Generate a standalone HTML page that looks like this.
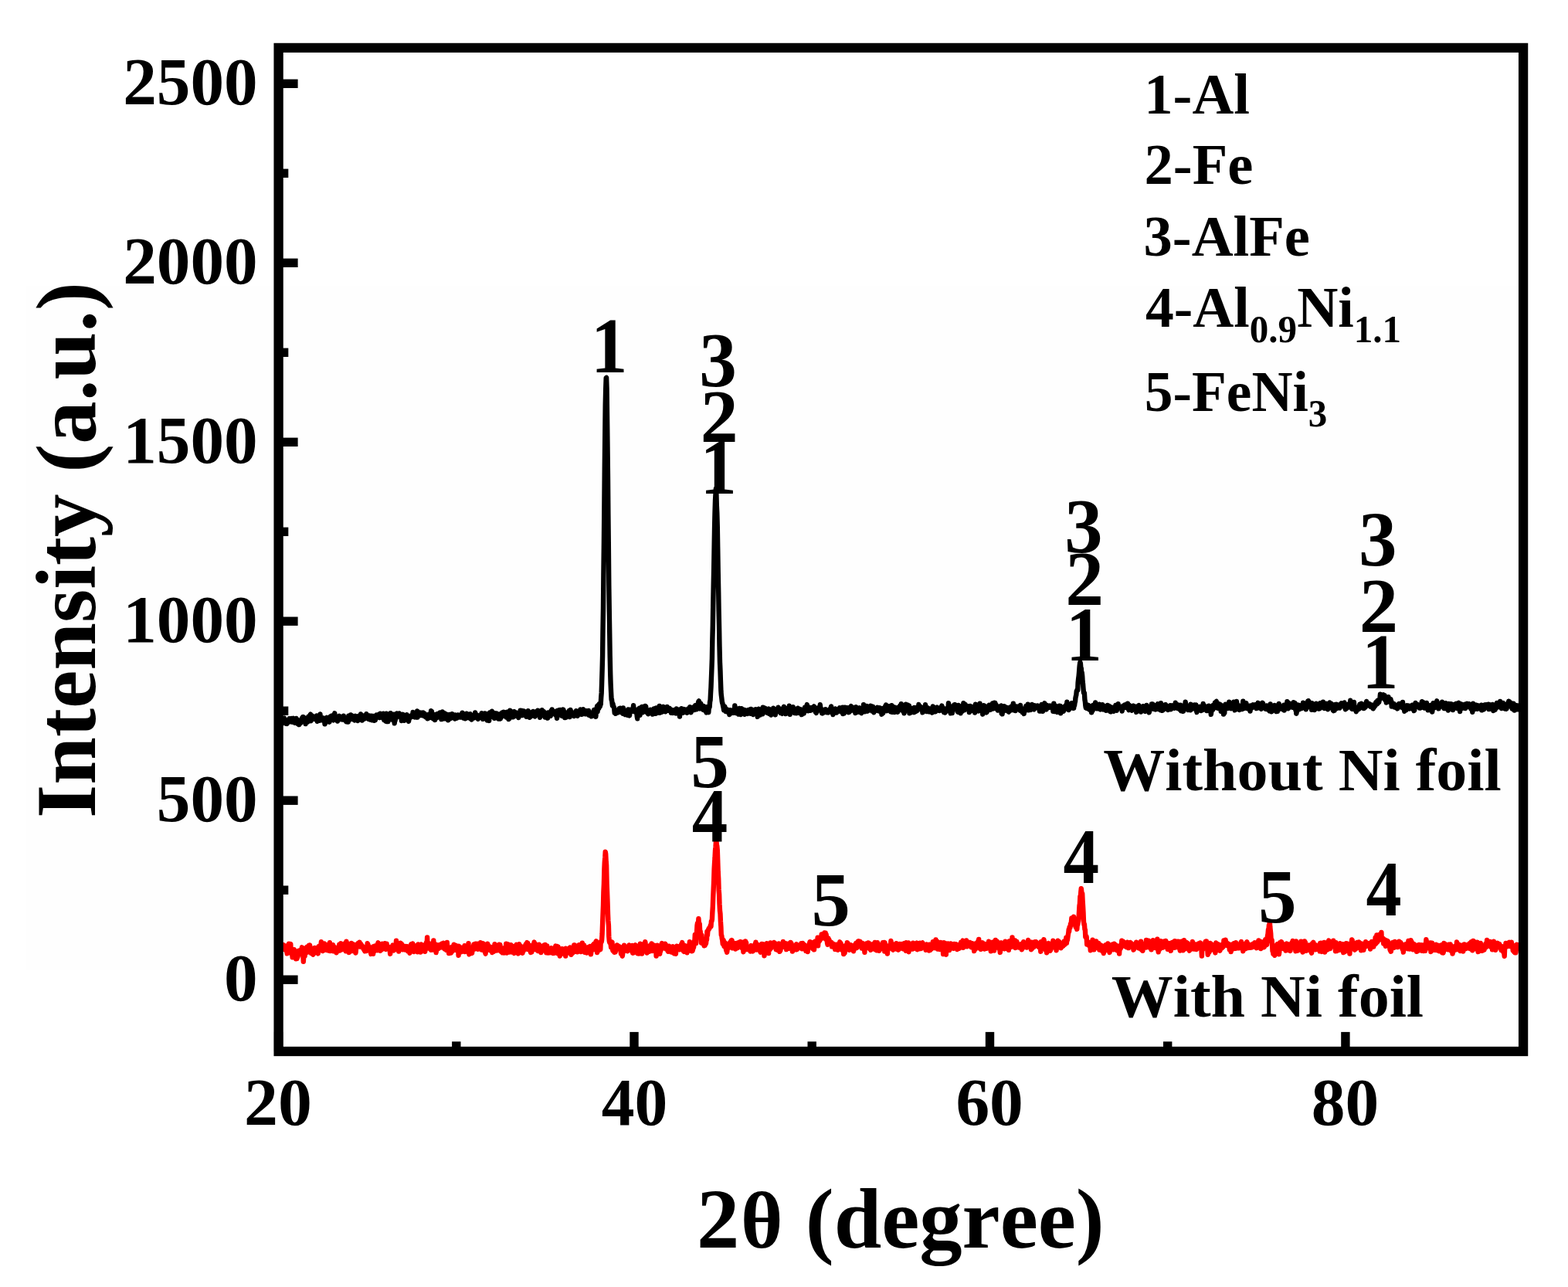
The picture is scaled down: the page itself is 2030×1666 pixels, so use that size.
<!DOCTYPE html>
<html lang="en"><head><meta charset="utf-8"><title>XRD patterns</title>
<style>
html,body{margin:0;padding:0;background:#fff;}
body{width:2030px;height:1666px;overflow:hidden;}
svg{display:block;}
text{font-family:"Liberation Serif", "DejaVu Serif", serif;font-weight:bold;fill:#000;font-kerning:none;font-size:200px;}
.sb{font-size:133.4px;}
</style></head><body>
<svg width="2030" height="1666" viewBox="0 0 2030 1666">
<rect x="0" y="0" width="2030" height="1666" fill="#fff"/>
<rect x="34" y="370" width="1930" height="885.6" fill="#fefefe"/>
<g fill="none" stroke-linejoin="round" stroke-linecap="round" stroke-width="6.4">
<path stroke="#000" d="M360.6,931.8 L361.1,928.9 L361.5,928.9 L362.0,931.9 L362.4,931.0 L362.9,931.5 L363.4,929.9 L363.8,932.2 L364.3,931.4 L364.7,937.1 L365.2,929.7 L365.7,932.5 L366.1,929.9 L366.6,930.9 L367.0,931.1 L367.5,929.7 L368.0,929.6 L368.4,932.6 L368.9,933.3 L369.3,932.1 L369.8,935.5 L370.3,936.8 L370.7,932.7 L371.2,934.7 L371.7,936.9 L372.1,934.1 L372.6,932.7 L373.0,933.7 L373.5,934.4 L374.0,931.6 L374.4,930.4 L374.9,933.2 L375.3,934.2 L375.8,931.5 L376.3,930.4 L376.7,932.3 L377.2,930.8 L377.6,930.2 L378.1,933.2 L378.6,934.6 L379.0,932.1 L379.5,932.0 L379.9,929.8 L380.4,934.4 L380.9,932.9 L381.3,933.5 L381.8,935.8 L382.2,932.4 L382.7,931.8 L383.2,934.5 L383.6,930.0 L384.1,931.1 L384.5,931.6 L385.0,932.5 L385.5,932.0 L385.9,937.3 L386.4,933.5 L386.8,933.4 L387.3,938.1 L387.8,933.5 L388.2,934.9 L388.7,933.1 L389.1,936.1 L389.6,935.2 L390.1,933.6 L390.5,934.6 L391.0,929.8 L391.4,930.0 L391.9,928.3 L392.4,930.7 L392.8,928.1 L393.3,930.0 L393.8,932.3 L394.2,931.0 L394.7,930.2 L395.1,929.7 L395.6,937.1 L396.1,932.3 L396.5,933.2 L397.0,934.1 L397.4,935.3 L397.9,929.7 L398.4,934.2 L398.8,929.7 L399.3,927.7 L399.7,933.3 L400.2,930.1 L400.7,931.7 L401.1,928.1 L401.6,925.3 L402.0,924.7 L402.5,933.3 L403.0,931.3 L403.4,928.7 L403.9,926.4 L404.3,928.1 L404.8,929.8 L405.3,927.3 L405.7,928.0 L406.2,928.9 L406.6,930.7 L407.1,929.0 L407.6,929.4 L408.0,929.9 L408.5,929.5 L408.9,931.2 L409.4,929.5 L409.9,926.4 L410.3,930.2 L410.8,933.8 L411.2,928.8 L411.7,930.6 L412.2,926.9 L412.6,930.5 L413.1,931.0 L413.5,932.8 L414.0,927.0 L414.5,924.5 L414.9,931.8 L415.4,931.6 L415.9,929.2 L416.3,932.3 L416.8,931.4 L417.2,932.0 L417.7,931.2 L418.2,929.4 L418.6,931.5 L419.1,929.5 L419.5,932.5 L420.0,931.5 L420.5,937.3 L420.9,936.6 L421.4,932.3 L421.8,935.0 L422.3,931.8 L422.8,931.0 L423.2,928.8 L423.7,929.8 L424.1,929.6 L424.6,932.2 L425.1,933.8 L425.5,934.2 L426.0,933.8 L426.4,934.7 L426.9,932.4 L427.4,929.9 L427.8,927.4 L428.3,927.3 L428.7,930.1 L429.2,926.8 L429.7,927.3 L430.1,926.7 L430.6,928.8 L431.0,932.0 L431.5,932.3 L432.0,926.1 L432.4,928.0 L432.9,924.8 L433.3,923.3 L433.8,929.0 L434.3,926.8 L434.7,927.6 L435.2,928.4 L435.6,929.3 L436.1,930.6 L436.6,930.6 L437.0,933.5 L437.5,929.8 L438.0,930.1 L438.4,927.7 L438.9,928.7 L439.3,926.8 L439.8,927.4 L440.3,929.5 L440.7,930.1 L441.2,930.5 L441.6,931.2 L442.1,930.0 L442.6,930.2 L443.0,928.1 L443.5,928.9 L443.9,927.7 L444.4,931.6 L444.9,926.8 L445.3,930.3 L445.8,930.6 L446.2,930.1 L446.7,931.7 L447.2,930.6 L447.6,932.9 L448.1,934.1 L448.5,933.8 L449.0,929.5 L449.5,932.1 L449.9,934.5 L450.4,931.7 L450.8,934.5 L451.3,926.7 L451.8,932.8 L452.2,928.1 L452.7,927.6 L453.1,931.4 L453.6,927.2 L454.1,925.4 L454.5,926.5 L455.0,927.2 L455.4,926.2 L455.9,928.3 L456.4,928.4 L456.8,929.8 L457.3,928.3 L457.8,931.6 L458.2,928.0 L458.7,931.0 L459.1,932.4 L459.6,929.5 L460.1,926.8 L460.5,928.2 L461.0,931.0 L461.4,928.3 L461.9,930.6 L462.4,929.7 L462.8,928.7 L463.3,933.0 L463.7,927.2 L464.2,929.3 L464.7,928.4 L465.1,930.3 L465.6,930.7 L466.0,929.7 L466.5,926.2 L467.0,924.4 L467.4,928.0 L467.9,925.7 L468.3,928.8 L468.8,932.5 L469.3,928.5 L469.7,928.2 L470.2,929.9 L470.6,927.8 L471.1,926.6 L471.6,929.2 L472.0,930.4 L472.5,927.9 L472.9,927.9 L473.4,928.3 L473.9,925.7 L474.3,924.2 L474.8,928.8 L475.2,926.7 L475.7,926.4 L476.2,927.3 L476.6,927.2 L477.1,930.9 L477.5,929.0 L478.0,926.5 L478.5,928.8 L478.9,931.4 L479.4,928.5 L479.9,927.2 L480.3,929.3 L480.8,931.3 L481.2,926.7 L481.7,932.2 L482.2,928.2 L482.6,929.1 L483.1,931.6 L483.5,927.0 L484.0,929.4 L484.5,932.9 L484.9,929.0 L485.4,930.3 L485.8,932.3 L486.3,928.7 L486.8,926.2 L487.2,925.5 L487.7,927.0 L488.1,927.7 L488.6,927.1 L489.1,928.5 L489.5,925.2 L490.0,926.9 L490.4,926.4 L490.9,925.8 L491.4,929.1 L491.8,928.4 L492.3,923.7 L492.7,925.9 L493.2,927.1 L493.7,925.7 L494.1,927.6 L494.6,926.3 L495.0,928.2 L495.5,926.0 L496.0,929.7 L496.4,923.8 L496.9,928.3 L497.3,931.8 L497.8,930.2 L498.3,931.4 L498.7,930.6 L499.2,933.4 L499.6,930.3 L500.1,923.7 L500.6,934.1 L501.0,930.9 L501.5,932.2 L502.0,930.6 L502.4,934.1 L502.9,932.1 L503.3,928.5 L503.8,929.6 L504.3,926.4 L504.7,931.3 L505.2,929.3 L505.6,923.1 L506.1,930.4 L506.6,930.8 L507.0,929.5 L507.5,930.4 L507.9,929.1 L508.4,930.7 L508.9,932.3 L509.3,930.0 L509.8,924.7 L510.2,927.5 L510.7,936.3 L511.2,931.2 L511.6,932.9 L512.1,929.4 L512.5,930.1 L513.0,924.2 L513.5,924.7 L513.9,923.6 L514.4,924.7 L514.8,925.8 L515.3,925.8 L515.8,924.4 L516.2,926.1 L516.7,927.5 L517.1,923.5 L517.6,925.3 L518.1,925.8 L518.5,927.4 L519.0,927.3 L519.4,928.0 L519.9,933.0 L520.4,925.4 L520.8,926.4 L521.3,927.8 L521.7,924.8 L522.2,925.7 L522.7,926.1 L523.1,932.9 L523.6,929.6 L524.1,929.1 L524.5,927.5 L525.0,926.8 L525.4,926.5 L525.9,930.4 L526.4,931.4 L526.8,925.2 L527.3,927.0 L527.7,926.4 L528.2,929.9 L528.7,930.0 L529.1,933.7 L529.6,929.3 L530.0,930.5 L530.5,928.2 L531.0,927.7 L531.4,928.8 L531.9,927.8 L532.3,928.2 L532.8,926.0 L533.3,926.0 L533.7,927.6 L534.2,927.1 L534.6,921.9 L535.1,925.7 L535.6,923.6 L536.0,925.0 L536.5,927.4 L536.9,928.4 L537.4,927.2 L537.9,927.0 L538.3,925.7 L538.8,928.6 L539.2,926.1 L539.7,924.3 L540.2,920.4 L540.6,928.5 L541.1,922.7 L541.5,924.9 L542.0,923.1 L542.5,925.4 L542.9,924.2 L543.4,922.4 L543.9,925.3 L544.3,925.0 L544.8,924.5 L545.2,926.1 L545.7,922.6 L546.2,923.7 L546.6,924.6 L547.1,923.1 L547.5,923.9 L548.0,922.5 L548.5,925.1 L548.9,926.9 L549.4,923.4 L549.8,924.9 L550.3,924.5 L550.8,925.9 L551.2,927.6 L551.7,928.7 L552.1,928.9 L552.6,926.4 L553.1,927.7 L553.5,930.3 L554.0,926.4 L554.4,928.5 L554.9,925.0 L555.4,928.1 L555.8,928.6 L556.3,925.9 L556.7,926.1 L557.2,928.9 L557.7,923.3 L558.1,920.2 L558.6,927.8 L559.0,921.3 L559.5,927.1 L560.0,927.4 L560.4,927.5 L560.9,930.6 L561.3,925.4 L561.8,927.6 L562.3,930.6 L562.7,929.8 L563.2,932.0 L563.6,928.8 L564.1,925.0 L564.6,929.5 L565.0,926.3 L565.5,925.4 L566.0,924.2 L566.4,924.1 L566.9,928.0 L567.3,928.3 L567.8,925.4 L568.3,926.7 L568.7,926.5 L569.2,923.7 L569.6,922.6 L570.1,925.7 L570.6,927.0 L571.0,925.7 L571.5,931.1 L571.9,927.2 L572.4,929.2 L572.9,921.4 L573.3,924.1 L573.8,924.7 L574.2,925.2 L574.7,930.4 L575.2,924.4 L575.6,923.3 L576.1,928.8 L576.5,925.9 L577.0,925.7 L577.5,930.4 L577.9,925.3 L578.4,924.8 L578.8,927.7 L579.3,928.9 L579.8,927.4 L580.2,932.3 L580.7,928.7 L581.1,926.2 L581.6,930.4 L582.1,925.0 L582.5,927.3 L583.0,930.3 L583.4,925.9 L583.9,927.7 L584.4,925.2 L584.8,928.5 L585.3,924.1 L585.7,928.2 L586.2,926.5 L586.7,929.2 L587.1,929.2 L587.6,926.3 L588.1,928.2 L588.5,929.1 L589.0,930.5 L589.4,925.4 L589.9,926.6 L590.4,929.0 L590.8,927.6 L591.3,929.7 L591.7,928.9 L592.2,928.0 L592.7,925.4 L593.1,925.8 L593.6,928.5 L594.0,925.9 L594.5,926.3 L595.0,927.9 L595.4,926.1 L595.9,928.5 L596.3,927.6 L596.8,925.7 L597.3,926.2 L597.7,924.0 L598.2,928.2 L598.6,922.8 L599.1,927.7 L599.6,926.7 L600.0,929.6 L600.5,925.7 L600.9,924.4 L601.4,924.9 L601.9,925.3 L602.3,930.3 L602.8,928.6 L603.2,927.5 L603.7,928.1 L604.2,923.6 L604.6,925.6 L605.1,926.5 L605.5,925.9 L606.0,929.1 L606.5,928.9 L606.9,928.3 L607.4,924.7 L607.9,924.7 L608.3,924.4 L608.8,924.2 L609.2,930.2 L609.7,929.2 L610.2,928.1 L610.6,931.5 L611.1,930.0 L611.5,927.0 L612.0,927.2 L612.5,927.4 L612.9,929.4 L613.4,929.4 L613.8,925.8 L614.3,927.7 L614.8,925.3 L615.2,922.5 L615.7,925.6 L616.1,926.3 L616.6,925.7 L617.1,925.4 L617.5,926.5 L618.0,927.5 L618.4,926.6 L618.9,930.7 L619.4,928.8 L619.8,926.5 L620.3,928.6 L620.7,929.3 L621.2,928.8 L621.7,928.0 L622.1,926.4 L622.6,928.3 L623.0,926.0 L623.5,923.2 L624.0,927.3 L624.4,924.7 L624.9,927.3 L625.3,930.8 L625.8,929.1 L626.3,930.4 L626.7,926.2 L627.2,929.4 L627.6,923.5 L628.1,924.5 L628.6,929.9 L629.0,924.8 L629.5,924.2 L630.0,929.9 L630.4,926.7 L630.9,932.6 L631.3,927.8 L631.8,931.1 L632.3,926.2 L632.7,931.0 L633.2,933.0 L633.6,926.6 L634.1,922.4 L634.6,928.1 L635.0,924.6 L635.5,925.5 L635.9,925.8 L636.4,923.3 L636.9,920.7 L637.3,926.5 L637.8,922.8 L638.2,923.8 L638.7,928.2 L639.2,922.7 L639.6,923.0 L640.1,929.7 L640.5,924.2 L641.0,927.5 L641.5,927.5 L641.9,923.4 L642.4,925.8 L642.8,925.7 L643.3,923.5 L643.8,924.2 L644.2,925.1 L644.7,929.9 L645.1,930.4 L645.6,925.0 L646.1,929.8 L646.5,928.0 L647.0,930.6 L647.4,928.5 L647.9,930.4 L648.4,923.9 L648.8,928.9 L649.3,926.5 L649.7,926.1 L650.2,922.4 L650.7,927.2 L651.1,923.6 L651.6,923.5 L652.1,921.8 L652.5,921.9 L653.0,924.2 L653.4,923.4 L653.9,925.6 L654.4,924.8 L654.8,926.8 L655.3,928.4 L655.7,927.1 L656.2,926.0 L656.7,921.6 L657.1,927.1 L657.6,925.5 L658.0,923.4 L658.5,931.1 L659.0,930.7 L659.4,929.2 L659.9,926.1 L660.3,919.7 L660.8,922.9 L661.3,920.3 L661.7,922.9 L662.2,927.8 L662.6,928.2 L663.1,922.3 L663.6,924.9 L664.0,928.3 L664.5,923.1 L664.9,928.1 L665.4,922.1 L665.9,921.2 L666.3,925.8 L666.8,926.7 L667.2,922.8 L667.7,926.8 L668.2,922.6 L668.6,926.8 L669.1,922.6 L669.5,924.2 L670.0,925.5 L670.5,926.6 L670.9,924.4 L671.4,929.0 L671.8,925.5 L672.3,925.5 L672.8,922.7 L673.2,926.3 L673.7,919.7 L674.2,923.5 L674.6,925.0 L675.1,920.0 L675.5,919.9 L676.0,924.3 L676.5,926.0 L676.9,924.1 L677.4,925.5 L677.8,924.5 L678.3,920.4 L678.8,922.8 L679.2,923.5 L679.7,923.3 L680.1,924.4 L680.6,923.1 L681.1,924.0 L681.5,927.7 L682.0,927.4 L682.4,922.5 L682.9,925.7 L683.4,925.8 L683.8,920.2 L684.3,924.3 L684.7,927.1 L685.2,924.4 L685.7,928.7 L686.1,928.4 L686.6,926.5 L687.0,926.7 L687.5,927.2 L688.0,926.0 L688.4,925.7 L688.9,921.9 L689.3,926.1 L689.8,926.2 L690.3,921.0 L690.7,926.3 L691.2,921.7 L691.6,921.7 L692.1,924.6 L692.6,927.5 L693.0,924.2 L693.5,924.4 L694.0,924.1 L694.4,925.7 L694.9,922.4 L695.3,920.8 L695.8,925.1 L696.3,919.7 L696.7,922.7 L697.2,924.6 L697.6,924.6 L698.1,920.5 L698.6,922.8 L699.0,928.9 L699.5,925.1 L699.9,925.4 L700.4,924.8 L700.9,924.3 L701.3,925.1 L701.8,919.3 L702.2,922.6 L702.7,921.3 L703.2,922.0 L703.6,922.9 L704.1,921.0 L704.5,923.1 L705.0,926.7 L705.5,928.5 L705.9,927.9 L706.4,924.7 L706.8,925.9 L707.3,925.3 L707.8,926.4 L708.2,926.4 L708.7,925.4 L709.1,929.6 L709.6,922.4 L710.1,927.4 L710.5,927.0 L711.0,923.1 L711.4,925.1 L711.9,924.8 L712.4,925.4 L712.8,926.8 L713.3,922.6 L713.7,920.0 L714.2,923.8 L714.7,918.5 L715.1,923.3 L715.6,922.5 L716.1,920.4 L716.5,922.0 L717.0,920.8 L717.4,923.6 L717.9,923.5 L718.4,924.7 L718.8,923.3 L719.3,923.8 L719.7,926.0 L720.2,924.0 L720.7,927.0 L721.1,929.9 L721.6,920.0 L722.0,926.1 L722.5,926.1 L723.0,919.9 L723.4,919.3 L723.9,923.6 L724.3,924.0 L724.8,923.0 L725.3,918.9 L725.7,922.7 L726.2,924.4 L726.6,923.4 L727.1,921.2 L727.6,926.8 L728.0,924.6 L728.5,926.4 L728.9,918.5 L729.4,918.8 L729.9,920.6 L730.3,923.2 L730.8,922.3 L731.2,929.0 L731.7,924.9 L732.2,928.8 L732.6,928.8 L733.1,927.2 L733.5,925.9 L734.0,923.4 L734.5,922.7 L734.9,923.3 L735.4,925.4 L735.8,921.7 L736.3,923.0 L736.8,919.9 L737.2,924.1 L737.7,928.1 L738.2,923.8 L738.6,918.9 L739.1,922.9 L739.5,924.5 L740.0,922.1 L740.5,922.6 L740.9,922.4 L741.4,924.6 L741.8,923.8 L742.3,924.0 L742.8,926.0 L743.2,927.0 L743.7,924.2 L744.1,922.2 L744.6,922.5 L745.1,923.1 L745.5,923.7 L746.0,920.1 L746.4,925.8 L746.9,924.8 L747.4,923.1 L747.8,926.7 L748.3,925.4 L748.7,922.9 L749.2,920.8 L749.7,922.9 L750.1,922.1 L750.6,921.9 L751.0,923.8 L751.5,918.4 L752.0,921.1 L752.4,924.3 L752.9,921.4 L753.3,924.9 L753.8,923.3 L754.3,920.8 L754.7,922.4 L755.2,918.3 L755.6,924.1 L756.1,921.3 L756.6,921.7 L757.0,920.9 L757.5,922.7 L757.9,924.3 L758.4,924.4 L758.9,923.9 L759.3,920.2 L759.8,923.1 L760.3,920.5 L760.7,922.4 L761.2,922.7 L761.6,924.6 L762.1,920.0 L762.6,925.7 L763.0,923.5 L763.5,923.3 L763.9,922.8 L764.4,923.5 L764.9,923.8 L765.3,922.6 L765.8,927.3 L766.2,923.6 L766.7,925.7 L767.2,922.1 L767.6,924.5 L768.1,923.6 L768.5,921.7 L769.0,919.0 L769.5,921.4 L769.9,922.7 L770.4,921.1 L770.8,926.1 L771.3,927.8 L771.8,923.1 L772.2,921.3 L772.7,916.8 L773.1,914.2 L773.6,921.1 L774.1,913.3 L774.5,915.3 L775.0,916.6 L775.4,916.8 L775.9,911.3 L776.4,914.8 L776.8,914.5 L777.3,911.3 L777.7,911.7 L778.2,903.2 L778.7,896.9 L779.1,884.4 L779.6,867.8 L780.1,848.9 L780.5,816.1 L781.0,786.9 L781.4,742.8 L781.9,702.7 L782.4,650.5 L782.8,605.0 L783.3,559.3 L783.7,524.8 L784.2,503.2 L784.7,489.2 L785.1,488.9 L785.6,503.9 L786.0,537.0 L786.5,577.0 L787.0,619.6 L787.4,666.3 L787.9,714.3 L788.3,758.0 L788.8,792.2 L789.3,823.3 L789.7,849.0 L790.2,872.2 L790.6,884.8 L791.1,895.9 L791.6,905.7 L792.0,905.5 L792.5,910.1 L792.9,913.3 L793.4,910.8 L793.9,913.6 L794.3,914.8 L794.8,915.3 L795.2,917.5 L795.7,922.7 L796.2,921.9 L796.6,919.8 L797.1,923.9 L797.5,922.5 L798.0,921.7 L798.5,919.5 L798.9,919.7 L799.4,920.5 L799.8,922.5 L800.3,919.8 L800.8,920.0 L801.2,920.8 L801.7,917.2 L802.2,918.6 L802.6,921.0 L803.1,916.7 L803.5,919.8 L804.0,917.9 L804.5,922.2 L804.9,918.8 L805.4,920.7 L805.8,921.0 L806.3,923.7 L806.8,916.5 L807.2,922.8 L807.7,923.1 L808.1,921.6 L808.6,923.8 L809.1,921.8 L809.5,925.1 L810.0,921.6 L810.4,923.3 L810.9,921.9 L811.4,922.7 L811.8,925.5 L812.3,925.7 L812.7,922.9 L813.2,918.4 L813.7,918.5 L814.1,918.5 L814.6,924.2 L815.0,926.4 L815.5,922.4 L816.0,921.6 L816.4,921.5 L816.9,918.7 L817.3,919.1 L817.8,920.9 L818.3,920.2 L818.7,918.1 L819.2,918.1 L819.6,918.1 L820.1,913.2 L820.6,918.9 L821.0,918.6 L821.5,921.3 L821.9,920.2 L822.4,918.6 L822.9,918.9 L823.3,921.1 L823.8,920.8 L824.3,922.3 L824.7,927.1 L825.2,930.3 L825.6,918.4 L826.1,920.8 L826.6,921.7 L827.0,924.1 L827.5,922.4 L827.9,916.8 L828.4,925.8 L828.9,921.1 L829.3,919.1 L829.8,920.8 L830.2,919.3 L830.7,920.8 L831.2,915.0 L831.6,921.8 L832.1,922.2 L832.5,918.4 L833.0,915.3 L833.5,917.7 L833.9,914.8 L834.4,917.8 L834.8,919.1 L835.3,914.0 L835.8,914.1 L836.2,914.8 L836.7,919.6 L837.1,921.8 L837.6,922.5 L838.1,921.1 L838.5,919.8 L839.0,920.2 L839.4,924.2 L839.9,920.4 L840.4,920.1 L840.8,919.5 L841.3,919.6 L841.7,920.1 L842.2,918.7 L842.7,920.0 L843.1,919.9 L843.6,921.7 L844.0,919.2 L844.5,920.2 L845.0,924.6 L845.4,919.3 L845.9,920.6 L846.4,917.5 L846.8,919.1 L847.3,918.6 L847.7,918.0 L848.2,919.0 L848.7,920.6 L849.1,923.9 L849.6,916.4 L850.0,923.2 L850.5,920.1 L851.0,917.6 L851.4,918.0 L851.9,917.6 L852.3,917.3 L852.8,916.4 L853.3,918.8 L853.7,914.0 L854.2,922.8 L854.6,920.6 L855.1,921.9 L855.6,922.1 L856.0,920.0 L856.5,917.3 L856.9,921.7 L857.4,921.6 L857.9,918.2 L858.3,918.0 L858.8,914.8 L859.2,916.9 L859.7,919.0 L860.2,920.5 L860.6,919.3 L861.1,919.6 L861.5,921.3 L862.0,917.5 L862.5,917.4 L862.9,917.6 L863.4,918.6 L863.8,915.0 L864.3,917.6 L864.8,917.2 L865.2,919.9 L865.7,919.9 L866.2,917.7 L866.6,916.7 L867.1,918.7 L867.5,919.5 L868.0,918.1 L868.5,920.0 L868.9,922.9 L869.4,921.7 L869.8,922.1 L870.3,920.2 L870.8,922.9 L871.2,920.9 L871.7,919.2 L872.1,920.7 L872.6,922.8 L873.1,922.6 L873.5,921.2 L874.0,920.4 L874.4,919.5 L874.9,921.3 L875.4,923.4 L875.8,917.4 L876.3,919.7 L876.7,919.8 L877.2,920.4 L877.7,923.3 L878.1,921.8 L878.6,920.5 L879.0,918.7 L879.5,920.7 L880.0,927.5 L880.4,922.0 L880.9,921.4 L881.3,919.9 L881.8,921.3 L882.3,917.3 L882.7,918.9 L883.2,918.2 L883.6,918.4 L884.1,922.8 L884.6,918.0 L885.0,918.4 L885.5,920.5 L885.9,918.2 L886.4,918.7 L886.9,921.0 L887.3,921.0 L887.8,921.7 L888.3,920.7 L888.7,921.5 L889.2,918.5 L889.6,922.7 L890.1,918.6 L890.6,921.4 L891.0,919.1 L891.5,917.2 L891.9,918.3 L892.4,918.6 L892.9,918.2 L893.3,915.2 L893.8,921.0 L894.2,917.2 L894.7,922.2 L895.2,919.7 L895.6,917.9 L896.1,919.7 L896.5,917.3 L897.0,915.7 L897.5,919.1 L897.9,916.2 L898.4,916.2 L898.8,919.1 L899.3,915.5 L899.8,917.1 L900.2,913.1 L900.7,918.2 L901.1,913.4 L901.6,918.4 L902.1,913.1 L902.5,915.2 L903.0,914.0 L903.4,911.6 L903.9,909.9 L904.4,908.0 L904.8,907.4 L905.3,912.2 L905.7,914.4 L906.2,917.4 L906.7,912.7 L907.1,910.4 L907.6,911.8 L908.0,913.1 L908.5,914.8 L909.0,915.8 L909.4,915.2 L909.9,913.8 L910.4,918.6 L910.8,913.9 L911.3,919.0 L911.7,916.7 L912.2,917.9 L912.7,917.7 L913.1,919.8 L913.6,921.0 L914.0,920.0 L914.5,922.4 L915.0,915.1 L915.4,920.4 L915.9,919.8 L916.3,918.8 L916.8,919.6 L917.3,922.2 L917.7,916.9 L918.2,914.2 L918.6,915.4 L919.1,908.5 L919.6,906.3 L920.0,897.9 L920.5,889.5 L920.9,879.2 L921.4,866.1 L921.9,852.1 L922.3,829.4 L922.8,810.3 L923.2,784.8 L923.7,758.4 L924.2,734.0 L924.6,709.9 L925.1,681.6 L925.5,664.2 L926.0,648.0 L926.5,639.0 L926.9,632.6 L927.4,639.1 L927.8,654.2 L928.3,664.4 L928.8,682.8 L929.2,708.1 L929.7,739.8 L930.2,765.7 L930.6,790.9 L931.1,814.0 L931.5,836.9 L932.0,857.3 L932.5,868.5 L932.9,880.9 L933.4,894.6 L933.8,899.7 L934.3,903.6 L934.8,908.1 L935.2,910.0 L935.7,911.7 L936.1,913.8 L936.6,916.1 L937.1,919.3 L937.5,916.0 L938.0,915.1 L938.4,914.7 L938.9,920.0 L939.4,920.9 L939.8,918.3 L940.3,918.3 L940.7,920.2 L941.2,918.9 L941.7,921.5 L942.1,918.6 L942.6,922.0 L943.0,921.3 L943.5,921.6 L944.0,922.1 L944.4,925.0 L944.9,921.8 L945.3,919.2 L945.8,920.3 L946.3,921.6 L946.7,920.5 L947.2,920.2 L947.6,919.8 L948.1,922.9 L948.6,920.8 L949.0,921.2 L949.5,921.9 L949.9,922.6 L950.4,919.0 L950.9,920.1 L951.3,913.5 L951.8,918.4 L952.3,919.3 L952.7,920.6 L953.2,916.8 L953.6,923.2 L954.1,921.8 L954.6,923.2 L955.0,921.9 L955.5,921.9 L955.9,919.5 L956.4,924.6 L956.9,921.1 L957.3,917.0 L957.8,920.9 L958.2,919.9 L958.7,921.4 L959.2,925.1 L959.6,919.9 L960.1,917.2 L960.5,920.6 L961.0,923.7 L961.5,919.5 L961.9,920.2 L962.4,918.5 L962.8,918.7 L963.3,921.1 L963.8,919.9 L964.2,924.8 L964.7,919.1 L965.1,921.4 L965.6,919.8 L966.1,919.8 L966.5,922.3 L967.0,921.4 L967.4,922.2 L967.9,924.0 L968.4,919.5 L968.8,919.1 L969.3,922.3 L969.7,919.2 L970.2,920.8 L970.7,920.1 L971.1,922.2 L971.6,923.7 L972.0,917.9 L972.5,918.0 L973.0,919.5 L973.4,920.2 L973.9,920.1 L974.4,920.2 L974.8,921.5 L975.3,925.0 L975.7,919.3 L976.2,923.6 L976.7,920.4 L977.1,919.8 L977.6,918.7 L978.0,923.2 L978.5,918.1 L979.0,919.9 L979.4,920.0 L979.9,918.9 L980.3,923.0 L980.8,927.8 L981.3,920.3 L981.7,917.8 L982.2,917.7 L982.6,921.2 L983.1,920.5 L983.6,920.3 L984.0,925.5 L984.5,923.8 L984.9,924.2 L985.4,919.6 L985.9,924.0 L986.3,919.0 L986.8,921.6 L987.2,924.4 L987.7,915.6 L988.2,921.9 L988.6,918.8 L989.1,916.6 L989.5,921.0 L990.0,921.9 L990.5,916.8 L990.9,918.8 L991.4,921.8 L991.8,922.1 L992.3,921.7 L992.8,919.7 L993.2,922.7 L993.7,920.6 L994.1,918.1 L994.6,918.4 L995.1,917.5 L995.5,917.7 L996.0,924.0 L996.5,918.8 L996.9,921.4 L997.4,922.7 L997.8,924.7 L998.3,925.5 L998.8,924.1 L999.2,921.2 L999.7,922.8 L1000.1,921.2 L1000.6,919.9 L1001.1,916.7 L1001.5,918.8 L1002.0,919.2 L1002.4,917.5 L1002.9,922.4 L1003.4,921.4 L1003.8,925.2 L1004.3,921.9 L1004.7,921.3 L1005.2,919.9 L1005.7,920.2 L1006.1,920.5 L1006.6,918.5 L1007.0,918.7 L1007.5,915.7 L1008.0,916.2 L1008.4,920.9 L1008.9,917.4 L1009.3,919.9 L1009.8,918.1 L1010.3,920.4 L1010.7,923.1 L1011.2,918.5 L1011.6,920.0 L1012.1,923.3 L1012.6,923.8 L1013.0,919.5 L1013.5,919.6 L1013.9,917.4 L1014.4,915.8 L1014.9,914.9 L1015.3,919.7 L1015.8,916.8 L1016.3,917.6 L1016.7,921.1 L1017.2,924.1 L1017.6,919.5 L1018.1,920.6 L1018.6,917.2 L1019.0,919.1 L1019.5,920.0 L1019.9,917.4 L1020.4,922.2 L1020.9,918.5 L1021.3,918.6 L1021.8,913.7 L1022.2,916.3 L1022.7,924.8 L1023.2,917.0 L1023.6,923.0 L1024.1,919.9 L1024.5,922.0 L1025.0,919.3 L1025.5,917.2 L1025.9,917.2 L1026.4,919.4 L1026.8,915.2 L1027.3,918.3 L1027.8,920.2 L1028.2,919.6 L1028.7,923.0 L1029.1,918.7 L1029.6,922.6 L1030.1,922.2 L1030.5,921.7 L1031.0,923.3 L1031.4,922.6 L1031.9,918.8 L1032.4,918.4 L1032.8,916.7 L1033.3,919.0 L1033.7,922.7 L1034.2,919.4 L1034.7,918.6 L1035.1,917.9 L1035.6,919.2 L1036.0,922.7 L1036.5,918.1 L1037.0,922.4 L1037.4,920.1 L1037.9,925.1 L1038.4,920.6 L1038.8,924.1 L1039.3,920.5 L1039.7,919.1 L1040.2,919.9 L1040.7,923.6 L1041.1,921.7 L1041.6,920.1 L1042.0,915.8 L1042.5,915.9 L1043.0,916.2 L1043.4,915.8 L1043.9,915.0 L1044.3,914.5 L1044.8,912.1 L1045.3,915.8 L1045.7,915.4 L1046.2,920.3 L1046.6,919.7 L1047.1,918.6 L1047.6,919.8 L1048.0,917.2 L1048.5,916.0 L1048.9,919.5 L1049.4,919.7 L1049.9,919.4 L1050.3,917.5 L1050.8,918.3 L1051.2,915.9 L1051.7,916.3 L1052.2,916.5 L1052.6,916.0 L1053.1,917.7 L1053.5,917.5 L1054.0,914.3 L1054.5,918.6 L1054.9,917.5 L1055.4,919.9 L1055.8,921.7 L1056.3,922.1 L1056.8,922.8 L1057.2,920.4 L1057.7,921.1 L1058.1,920.2 L1058.6,916.6 L1059.1,919.1 L1059.5,916.1 L1060.0,917.4 L1060.5,915.7 L1060.9,918.5 L1061.4,917.1 L1061.8,912.3 L1062.3,916.6 L1062.8,916.6 L1063.2,918.8 L1063.7,918.2 L1064.1,923.3 L1064.6,923.4 L1065.1,921.1 L1065.5,920.3 L1066.0,922.6 L1066.4,921.7 L1066.9,921.4 L1067.4,920.2 L1067.8,921.4 L1068.3,921.2 L1068.7,918.2 L1069.2,921.8 L1069.7,920.8 L1070.1,920.8 L1070.6,922.2 L1071.0,919.8 L1071.5,921.2 L1072.0,920.4 L1072.4,922.4 L1072.9,921.9 L1073.3,919.3 L1073.8,919.2 L1074.3,920.2 L1074.7,917.5 L1075.2,917.0 L1075.6,916.8 L1076.1,914.4 L1076.6,919.8 L1077.0,919.5 L1077.5,920.6 L1077.9,922.7 L1078.4,925.1 L1078.9,921.2 L1079.3,921.7 L1079.8,921.3 L1080.2,920.3 L1080.7,919.2 L1081.2,920.2 L1081.6,917.4 L1082.1,922.1 L1082.6,918.9 L1083.0,922.6 L1083.5,920.7 L1083.9,918.7 L1084.4,920.6 L1084.9,920.7 L1085.3,918.4 L1085.8,919.9 L1086.2,920.1 L1086.7,920.2 L1087.2,916.3 L1087.6,918.0 L1088.1,918.1 L1088.5,921.1 L1089.0,916.9 L1089.5,920.8 L1089.9,917.4 L1090.4,921.4 L1090.8,915.8 L1091.3,924.0 L1091.8,918.1 L1092.2,918.7 L1092.7,923.6 L1093.1,919.9 L1093.6,915.7 L1094.1,915.7 L1094.5,920.9 L1095.0,918.4 L1095.4,920.0 L1095.9,920.3 L1096.4,920.4 L1096.8,916.2 L1097.3,920.4 L1097.7,921.6 L1098.2,922.0 L1098.7,919.7 L1099.1,919.3 L1099.6,921.9 L1100.0,916.0 L1100.5,920.5 L1101.0,918.0 L1101.4,916.2 L1101.9,914.0 L1102.4,919.2 L1102.8,918.8 L1103.3,917.6 L1103.7,919.6 L1104.2,918.5 L1104.7,918.1 L1105.1,919.0 L1105.6,917.8 L1106.0,917.3 L1106.5,919.3 L1107.0,915.8 L1107.4,923.1 L1107.9,920.5 L1108.3,915.1 L1108.8,916.9 L1109.3,919.4 L1109.7,918.1 L1110.2,917.8 L1110.6,921.8 L1111.1,918.8 L1111.6,920.1 L1112.0,919.3 L1112.5,918.7 L1112.9,916.3 L1113.4,921.6 L1113.9,920.8 L1114.3,919.1 L1114.8,922.9 L1115.2,923.1 L1115.7,918.0 L1116.2,918.7 L1116.6,918.8 L1117.1,918.2 L1117.5,920.5 L1118.0,912.3 L1118.5,920.4 L1118.9,919.2 L1119.4,921.3 L1119.8,919.3 L1120.3,915.2 L1120.8,918.1 L1121.2,916.6 L1121.7,918.7 L1122.1,914.0 L1122.6,917.7 L1123.1,920.7 L1123.5,916.3 L1124.0,918.3 L1124.5,915.8 L1124.9,916.2 L1125.4,915.7 L1125.8,915.9 L1126.3,918.0 L1126.8,919.0 L1127.2,913.6 L1127.7,916.0 L1128.1,915.3 L1128.6,917.0 L1129.1,920.6 L1129.5,919.5 L1130.0,914.6 L1130.4,919.7 L1130.9,919.5 L1131.4,922.3 L1131.8,920.7 L1132.3,920.5 L1132.7,920.0 L1133.2,919.3 L1133.7,920.0 L1134.1,919.7 L1134.6,918.5 L1135.0,918.0 L1135.5,919.3 L1136.0,915.8 L1136.4,919.1 L1136.9,919.0 L1137.3,920.3 L1137.8,916.3 L1138.3,920.0 L1138.7,920.6 L1139.2,919.2 L1139.6,916.4 L1140.1,921.1 L1140.6,917.2 L1141.0,921.0 L1141.5,924.7 L1141.9,922.0 L1142.4,917.4 L1142.9,922.6 L1143.3,923.2 L1143.8,919.0 L1144.2,916.6 L1144.7,916.2 L1145.2,917.6 L1145.6,915.4 L1146.1,914.7 L1146.6,913.4 L1147.0,912.5 L1147.5,918.6 L1147.9,916.6 L1148.4,920.2 L1148.9,917.6 L1149.3,919.7 L1149.8,918.2 L1150.2,914.9 L1150.7,917.5 L1151.2,914.2 L1151.6,918.2 L1152.1,918.2 L1152.5,919.8 L1153.0,921.3 L1153.5,920.6 L1153.9,918.2 L1154.4,913.3 L1154.8,921.8 L1155.3,918.7 L1155.8,920.0 L1156.2,921.7 L1156.7,919.2 L1157.1,921.3 L1157.6,918.9 L1158.1,915.4 L1158.5,922.0 L1159.0,917.3 L1159.4,916.9 L1159.9,919.8 L1160.4,916.6 L1160.8,917.2 L1161.3,919.0 L1161.7,916.2 L1162.2,921.7 L1162.7,917.4 L1163.1,918.7 L1163.6,919.5 L1164.0,916.9 L1164.5,916.6 L1165.0,913.8 L1165.4,918.4 L1165.9,915.4 L1166.3,915.6 L1166.8,911.1 L1167.3,916.8 L1167.7,912.9 L1168.2,919.7 L1168.7,916.4 L1169.1,918.6 L1169.6,918.3 L1170.0,920.9 L1170.5,923.3 L1171.0,921.8 L1171.4,914.6 L1171.9,915.5 L1172.3,916.3 L1172.8,911.7 L1173.3,914.8 L1173.7,915.1 L1174.2,917.1 L1174.6,913.3 L1175.1,912.5 L1175.6,919.2 L1176.0,916.8 L1176.5,915.5 L1176.9,913.4 L1177.4,923.4 L1177.9,919.0 L1178.3,918.5 L1178.8,922.8 L1179.2,918.4 L1179.7,918.3 L1180.2,916.9 L1180.6,919.4 L1181.1,917.4 L1181.5,919.8 L1182.0,917.6 L1182.5,918.6 L1182.9,919.8 L1183.4,922.2 L1183.8,916.0 L1184.3,917.3 L1184.8,917.9 L1185.2,921.3 L1185.7,920.7 L1186.1,916.3 L1186.6,917.8 L1187.1,920.3 L1187.5,917.3 L1188.0,916.0 L1188.5,915.9 L1188.9,917.0 L1189.4,912.0 L1189.8,913.2 L1190.3,914.8 L1190.8,917.9 L1191.2,916.3 L1191.7,915.8 L1192.1,914.9 L1192.6,918.4 L1193.1,915.7 L1193.5,917.5 L1194.0,918.8 L1194.4,922.3 L1194.9,918.6 L1195.4,919.5 L1195.8,917.5 L1196.3,917.6 L1196.7,916.1 L1197.2,918.8 L1197.7,920.4 L1198.1,912.3 L1198.6,916.2 L1199.0,917.7 L1199.5,918.2 L1200.0,921.0 L1200.4,917.4 L1200.9,918.5 L1201.3,916.5 L1201.8,918.3 L1202.3,919.4 L1202.7,918.7 L1203.2,921.4 L1203.6,920.8 L1204.1,919.1 L1204.6,921.0 L1205.0,918.4 L1205.5,918.7 L1205.9,916.9 L1206.4,918.6 L1206.9,922.5 L1207.3,918.1 L1207.8,914.5 L1208.2,920.4 L1208.7,917.5 L1209.2,915.9 L1209.6,919.3 L1210.1,918.7 L1210.6,918.3 L1211.0,921.4 L1211.5,917.9 L1211.9,917.1 L1212.4,920.0 L1212.9,917.3 L1213.3,915.5 L1213.8,918.8 L1214.2,918.3 L1214.7,918.2 L1215.2,919.8 L1215.6,916.6 L1216.1,917.2 L1216.5,920.0 L1217.0,917.2 L1217.5,916.7 L1217.9,916.8 L1218.4,919.1 L1218.8,916.0 L1219.3,913.6 L1219.8,916.3 L1220.2,915.3 L1220.7,916.4 L1221.1,920.4 L1221.6,919.6 L1222.1,922.1 L1222.5,919.5 L1223.0,921.9 L1223.4,922.5 L1223.9,920.8 L1224.4,920.0 L1224.8,918.2 L1225.3,917.4 L1225.7,920.5 L1226.2,919.2 L1226.7,916.7 L1227.1,915.6 L1227.6,915.7 L1228.0,910.1 L1228.5,913.6 L1229.0,917.0 L1229.4,916.7 L1229.9,916.6 L1230.3,919.1 L1230.8,923.4 L1231.3,919.3 L1231.7,919.2 L1232.2,914.8 L1232.7,923.0 L1233.1,915.9 L1233.6,919.0 L1234.0,915.9 L1234.5,917.3 L1235.0,915.2 L1235.4,912.4 L1235.9,914.1 L1236.3,912.1 L1236.8,914.9 L1237.3,916.3 L1237.7,916.7 L1238.2,918.3 L1238.6,918.4 L1239.1,915.8 L1239.6,921.1 L1240.0,921.6 L1240.5,917.3 L1240.9,913.0 L1241.4,914.0 L1241.9,913.9 L1242.3,915.0 L1242.8,919.7 L1243.2,917.9 L1243.7,923.3 L1244.2,918.3 L1244.6,915.3 L1245.1,919.8 L1245.5,920.9 L1246.0,919.4 L1246.5,916.1 L1246.9,913.7 L1247.4,910.2 L1247.8,912.0 L1248.3,917.6 L1248.8,919.1 L1249.2,913.8 L1249.7,911.9 L1250.1,917.6 L1250.6,915.5 L1251.1,915.6 L1251.5,915.0 L1252.0,915.7 L1252.5,914.7 L1252.9,914.4 L1253.4,917.6 L1253.8,917.2 L1254.3,915.4 L1254.8,922.1 L1255.2,921.9 L1255.7,917.7 L1256.1,914.0 L1256.6,917.0 L1257.1,915.0 L1257.5,918.2 L1258.0,916.1 L1258.4,919.9 L1258.9,917.1 L1259.4,917.3 L1259.8,916.8 L1260.3,914.7 L1260.7,915.7 L1261.2,919.7 L1261.7,917.0 L1262.1,922.5 L1262.6,916.4 L1263.0,911.8 L1263.5,915.5 L1264.0,915.1 L1264.4,916.1 L1264.9,915.0 L1265.3,918.7 L1265.8,917.3 L1266.3,920.0 L1266.7,920.4 L1267.2,918.5 L1267.6,917.6 L1268.1,919.7 L1268.6,910.8 L1269.0,914.5 L1269.5,918.5 L1269.9,913.1 L1270.4,915.9 L1270.9,916.0 L1271.3,915.8 L1271.8,919.9 L1272.2,924.6 L1272.7,918.3 L1273.2,916.5 L1273.6,913.3 L1274.1,915.7 L1274.6,914.5 L1275.0,914.0 L1275.5,917.2 L1275.9,919.0 L1276.4,919.3 L1276.9,922.4 L1277.3,916.8 L1277.8,921.4 L1278.2,918.8 L1278.7,918.6 L1279.2,918.3 L1279.6,914.9 L1280.1,913.6 L1280.5,912.7 L1281.0,914.7 L1281.5,917.2 L1281.9,914.5 L1282.4,918.8 L1282.8,914.7 L1283.3,912.6 L1283.8,912.0 L1284.2,915.6 L1284.7,916.7 L1285.1,910.4 L1285.6,915.1 L1286.1,917.4 L1286.5,916.0 L1287.0,912.6 L1287.4,909.6 L1287.9,911.9 L1288.4,909.9 L1288.8,912.5 L1289.3,912.7 L1289.7,912.5 L1290.2,916.4 L1290.7,916.0 L1291.1,918.3 L1291.6,919.4 L1292.0,916.8 L1292.5,919.4 L1293.0,916.9 L1293.4,918.3 L1293.9,916.8 L1294.3,917.8 L1294.8,914.4 L1295.3,916.5 L1295.7,916.5 L1296.2,913.5 L1296.7,923.6 L1297.1,920.6 L1297.6,924.4 L1298.0,918.9 L1298.5,917.9 L1299.0,917.4 L1299.4,918.1 L1299.9,920.2 L1300.3,914.2 L1300.8,916.5 L1301.3,917.1 L1301.7,918.6 L1302.2,915.4 L1302.6,917.6 L1303.1,917.7 L1303.6,916.6 L1304.0,917.0 L1304.5,919.9 L1304.9,916.2 L1305.4,921.3 L1305.9,921.6 L1306.3,918.1 L1306.8,917.7 L1307.2,917.0 L1307.7,917.3 L1308.2,915.9 L1308.6,917.0 L1309.1,919.4 L1309.5,914.5 L1310.0,918.3 L1310.5,916.7 L1310.9,914.8 L1311.4,916.3 L1311.8,910.7 L1312.3,919.3 L1312.8,918.0 L1313.2,916.4 L1313.7,913.9 L1314.1,917.5 L1314.6,920.1 L1315.1,914.8 L1315.5,919.0 L1316.0,917.2 L1316.4,914.6 L1316.9,917.5 L1317.4,916.9 L1317.8,914.7 L1318.3,915.9 L1318.8,914.9 L1319.2,917.7 L1319.7,916.3 L1320.1,918.5 L1320.6,919.6 L1321.1,913.0 L1321.5,916.4 L1322.0,916.0 L1322.4,920.5 L1322.9,919.0 L1323.4,919.6 L1323.8,922.2 L1324.3,918.4 L1324.7,921.6 L1325.2,921.0 L1325.7,923.9 L1326.1,918.3 L1326.6,918.1 L1327.0,918.1 L1327.5,920.1 L1328.0,918.6 L1328.4,913.9 L1328.9,916.1 L1329.3,914.4 L1329.8,914.4 L1330.3,917.1 L1330.7,911.8 L1331.2,919.4 L1331.6,914.9 L1332.1,915.5 L1332.6,918.6 L1333.0,914.9 L1333.5,915.0 L1333.9,916.5 L1334.4,918.9 L1334.9,916.4 L1335.3,914.7 L1335.8,915.8 L1336.2,911.9 L1336.7,913.3 L1337.2,913.5 L1337.6,912.8 L1338.1,918.0 L1338.6,918.3 L1339.0,916.2 L1339.5,916.0 L1339.9,913.5 L1340.4,913.9 L1340.9,915.6 L1341.3,915.3 L1341.8,916.1 L1342.2,916.2 L1342.7,916.3 L1343.2,913.4 L1343.6,916.2 L1344.1,915.8 L1344.5,914.6 L1345.0,916.1 L1345.5,915.9 L1345.9,920.5 L1346.4,915.6 L1346.8,917.3 L1347.3,916.2 L1347.8,915.7 L1348.2,920.5 L1348.7,911.9 L1349.1,917.1 L1349.6,917.3 L1350.1,920.9 L1350.5,914.8 L1351.0,913.8 L1351.4,914.1 L1351.9,912.2 L1352.4,910.3 L1352.8,914.7 L1353.3,917.5 L1353.7,914.3 L1354.2,917.3 L1354.7,918.4 L1355.1,912.8 L1355.6,916.3 L1356.0,916.0 L1356.5,914.3 L1357.0,915.5 L1357.4,914.3 L1357.9,914.3 L1358.3,915.8 L1358.8,914.8 L1359.3,913.6 L1359.7,913.7 L1360.2,913.9 L1360.7,913.9 L1361.1,915.3 L1361.6,914.8 L1362.0,916.5 L1362.5,916.2 L1363.0,913.8 L1363.4,920.7 L1363.9,916.4 L1364.3,910.8 L1364.8,921.0 L1365.3,913.8 L1365.7,920.4 L1366.2,915.9 L1366.6,913.6 L1367.1,914.5 L1367.6,920.1 L1368.0,921.4 L1368.5,921.8 L1368.9,916.9 L1369.4,918.6 L1369.9,916.8 L1370.3,915.3 L1370.8,914.4 L1371.2,914.0 L1371.7,915.3 L1372.2,919.6 L1372.6,913.9 L1373.1,923.3 L1373.5,915.6 L1374.0,920.0 L1374.5,919.7 L1374.9,920.8 L1375.4,920.6 L1375.8,919.6 L1376.3,919.5 L1376.8,920.8 L1377.2,916.4 L1377.7,919.1 L1378.1,914.7 L1378.6,917.2 L1379.1,917.6 L1379.5,914.5 L1380.0,912.8 L1380.4,915.6 L1380.9,913.3 L1381.4,908.8 L1381.8,913.2 L1382.3,912.8 L1382.8,911.5 L1383.2,915.4 L1383.7,919.0 L1384.1,918.1 L1384.6,914.3 L1385.1,913.9 L1385.5,913.8 L1386.0,913.9 L1386.4,916.7 L1386.9,912.1 L1387.4,910.4 L1387.8,913.8 L1388.3,910.3 L1388.7,913.3 L1389.2,912.7 L1389.7,912.8 L1390.1,916.9 L1390.6,910.2 L1391.0,913.6 L1391.5,909.9 L1392.0,908.2 L1392.4,903.6 L1392.9,901.2 L1393.3,899.8 L1393.8,894.6 L1394.3,894.2 L1394.7,892.4 L1395.2,893.7 L1395.6,883.8 L1396.1,879.0 L1396.6,875.3 L1397.0,870.7 L1397.5,863.9 L1397.9,860.1 L1398.4,857.1 L1398.9,859.0 L1399.3,864.5 L1399.8,865.0 L1400.2,871.4 L1400.7,870.5 L1401.2,875.3 L1401.6,881.9 L1402.1,885.9 L1402.5,891.2 L1403.0,896.6 L1403.5,896.8 L1403.9,897.1 L1404.4,905.6 L1404.9,908.4 L1405.3,913.1 L1405.8,916.1 L1406.2,911.7 L1406.7,916.8 L1407.2,914.4 L1407.6,914.6 L1408.1,912.6 L1408.5,913.9 L1409.0,912.9 L1409.5,917.6 L1409.9,916.0 L1410.4,913.6 L1410.8,918.8 L1411.3,918.2 L1411.8,914.2 L1412.2,916.4 L1412.7,915.2 L1413.1,922.3 L1413.6,917.6 L1414.1,920.5 L1414.5,920.1 L1415.0,915.5 L1415.4,912.7 L1415.9,917.3 L1416.4,915.7 L1416.8,914.2 L1417.3,913.3 L1417.7,916.3 L1418.2,909.4 L1418.7,913.7 L1419.1,916.3 L1419.6,917.2 L1420.0,911.6 L1420.5,912.0 L1421.0,917.4 L1421.4,915.0 L1421.9,912.6 L1422.3,917.4 L1422.8,916.0 L1423.3,911.8 L1423.7,916.2 L1424.2,916.0 L1424.7,918.4 L1425.1,917.3 L1425.6,914.0 L1426.0,916.8 L1426.5,917.7 L1427.0,916.5 L1427.4,912.2 L1427.9,916.4 L1428.3,918.4 L1428.8,916.5 L1429.3,914.8 L1429.7,914.5 L1430.2,918.2 L1430.6,914.2 L1431.1,916.1 L1431.6,914.7 L1432.0,919.8 L1432.5,914.7 L1432.9,917.5 L1433.4,919.6 L1433.9,912.9 L1434.3,916.7 L1434.8,914.8 L1435.2,916.1 L1435.7,913.8 L1436.2,914.2 L1436.6,914.6 L1437.1,915.9 L1437.5,921.2 L1438.0,921.4 L1438.5,917.2 L1438.9,919.1 L1439.4,915.6 L1439.8,916.0 L1440.3,919.7 L1440.8,919.6 L1441.2,920.6 L1441.7,920.8 L1442.1,919.6 L1442.6,917.5 L1443.1,915.6 L1443.5,919.7 L1444.0,918.2 L1444.4,913.0 L1444.9,913.6 L1445.4,914.5 L1445.8,919.7 L1446.3,916.9 L1446.8,914.7 L1447.2,916.7 L1447.7,911.3 L1448.1,915.0 L1448.6,914.1 L1449.1,916.6 L1449.5,916.4 L1450.0,915.9 L1450.4,916.4 L1450.9,916.3 L1451.4,915.7 L1451.8,916.6 L1452.3,915.4 L1452.7,920.6 L1453.2,917.4 L1453.7,917.2 L1454.1,913.8 L1454.6,916.6 L1455.0,914.1 L1455.5,915.4 L1456.0,912.5 L1456.4,912.8 L1456.9,915.7 L1457.3,915.9 L1457.8,915.1 L1458.3,913.2 L1458.7,916.0 L1459.2,911.2 L1459.6,914.2 L1460.1,910.7 L1460.6,913.0 L1461.0,918.0 L1461.5,919.1 L1461.9,912.8 L1462.4,916.5 L1462.9,916.2 L1463.3,918.0 L1463.8,917.5 L1464.2,915.9 L1464.7,916.7 L1465.2,919.8 L1465.6,915.3 L1466.1,916.7 L1466.5,918.6 L1467.0,913.8 L1467.5,915.9 L1467.9,913.8 L1468.4,916.6 L1468.9,914.6 L1469.3,918.8 L1469.8,914.6 L1470.2,918.8 L1470.7,915.7 L1471.2,921.9 L1471.6,917.0 L1472.1,915.5 L1472.5,916.0 L1473.0,914.4 L1473.5,919.1 L1473.9,913.4 L1474.4,913.1 L1474.8,918.9 L1475.3,917.6 L1475.8,916.7 L1476.2,915.5 L1476.7,915.5 L1477.1,921.6 L1477.6,915.6 L1478.1,917.6 L1478.5,919.3 L1479.0,915.1 L1479.4,917.6 L1479.9,914.2 L1480.4,915.6 L1480.8,917.5 L1481.3,914.6 L1481.7,915.5 L1482.2,918.4 L1482.7,920.9 L1483.1,918.7 L1483.6,916.0 L1484.0,917.4 L1484.5,912.9 L1485.0,915.9 L1485.4,916.2 L1485.9,916.0 L1486.3,919.1 L1486.8,917.9 L1487.3,919.1 L1487.7,922.3 L1488.2,920.6 L1488.6,915.1 L1489.1,917.3 L1489.6,916.0 L1490.0,917.9 L1490.5,915.0 L1491.0,911.4 L1491.4,912.9 L1491.9,914.8 L1492.3,911.5 L1492.8,915.7 L1493.3,916.4 L1493.7,912.6 L1494.2,917.9 L1494.6,913.1 L1495.1,917.3 L1495.6,917.6 L1496.0,918.4 L1496.5,917.6 L1496.9,918.0 L1497.4,917.2 L1497.9,916.6 L1498.3,913.1 L1498.8,911.4 L1499.2,912.7 L1499.7,912.5 L1500.2,915.7 L1500.6,918.1 L1501.1,914.9 L1501.5,915.9 L1502.0,913.8 L1502.5,919.3 L1502.9,910.2 L1503.4,919.3 L1503.8,917.5 L1504.3,915.6 L1504.8,919.9 L1505.2,917.1 L1505.7,919.2 L1506.1,917.4 L1506.6,918.4 L1507.1,914.2 L1507.5,914.0 L1508.0,915.5 L1508.4,912.3 L1508.9,912.0 L1509.4,915.0 L1509.8,915.7 L1510.3,916.4 L1510.8,917.4 L1511.2,914.4 L1511.7,917.3 L1512.1,918.9 L1512.6,918.6 L1513.1,916.5 L1513.5,918.0 L1514.0,916.1 L1514.4,916.4 L1514.9,913.2 L1515.4,913.3 L1515.8,918.3 L1516.3,915.4 L1516.7,913.4 L1517.2,916.0 L1517.7,913.5 L1518.1,914.7 L1518.6,914.1 L1519.0,915.2 L1519.5,913.9 L1520.0,913.0 L1520.4,916.7 L1520.9,915.1 L1521.3,915.2 L1521.8,909.7 L1522.3,913.2 L1522.7,913.8 L1523.2,914.7 L1523.6,916.4 L1524.1,916.7 L1524.6,913.2 L1525.0,916.0 L1525.5,912.5 L1525.9,916.3 L1526.4,917.2 L1526.9,918.1 L1527.3,917.9 L1527.8,917.6 L1528.2,914.4 L1528.7,912.8 L1529.2,920.2 L1529.6,917.1 L1530.1,915.6 L1530.5,918.3 L1531.0,917.2 L1531.5,916.7 L1531.9,920.9 L1532.4,914.5 L1532.9,915.9 L1533.3,915.5 L1533.8,914.4 L1534.2,913.4 L1534.7,908.7 L1535.2,913.1 L1535.6,912.1 L1536.1,915.4 L1536.5,914.3 L1537.0,916.5 L1537.5,916.9 L1537.9,919.0 L1538.4,918.8 L1538.8,915.6 L1539.3,914.2 L1539.8,914.1 L1540.2,915.8 L1540.7,913.4 L1541.1,919.2 L1541.6,911.8 L1542.1,914.1 L1542.5,914.1 L1543.0,912.7 L1543.4,916.5 L1543.9,914.1 L1544.4,917.4 L1544.8,915.5 L1545.3,917.3 L1545.7,915.3 L1546.2,912.5 L1546.7,916.8 L1547.1,916.9 L1547.6,917.0 L1548.0,916.7 L1548.5,912.4 L1549.0,919.5 L1549.4,922.0 L1549.9,918.4 L1550.3,919.7 L1550.8,917.0 L1551.3,915.3 L1551.7,916.9 L1552.2,916.1 L1552.6,918.6 L1553.1,914.9 L1553.6,917.7 L1554.0,914.9 L1554.5,915.7 L1555.0,920.0 L1555.4,918.7 L1555.9,917.1 L1556.3,914.8 L1556.8,919.2 L1557.3,915.4 L1557.7,911.0 L1558.2,915.0 L1558.6,914.6 L1559.1,915.4 L1559.6,918.3 L1560.0,914.3 L1560.5,916.2 L1560.9,916.8 L1561.4,915.5 L1561.9,915.0 L1562.3,920.1 L1562.8,914.9 L1563.2,916.9 L1563.7,915.4 L1564.2,917.2 L1564.6,917.5 L1565.1,913.6 L1565.5,915.9 L1566.0,917.3 L1566.5,918.7 L1566.9,919.2 L1567.4,920.1 L1567.8,924.9 L1568.3,921.1 L1568.8,918.7 L1569.2,915.9 L1569.7,914.2 L1570.1,919.0 L1570.6,912.9 L1571.1,916.3 L1571.5,914.8 L1572.0,916.2 L1572.4,915.3 L1572.9,909.8 L1573.4,912.1 L1573.8,911.0 L1574.3,908.4 L1574.8,908.0 L1575.2,916.3 L1575.7,915.4 L1576.1,916.4 L1576.6,913.3 L1577.1,912.1 L1577.5,916.9 L1578.0,915.0 L1578.4,912.8 L1578.9,911.4 L1579.4,914.2 L1579.8,912.0 L1580.3,915.9 L1580.7,920.7 L1581.2,918.3 L1581.7,914.8 L1582.1,913.4 L1582.6,920.0 L1583.0,919.6 L1583.5,916.8 L1584.0,924.5 L1584.4,916.4 L1584.9,915.1 L1585.3,922.8 L1585.8,914.3 L1586.3,915.6 L1586.7,911.6 L1587.2,913.8 L1587.6,915.3 L1588.1,915.1 L1588.6,913.7 L1589.0,915.3 L1589.5,914.9 L1589.9,916.9 L1590.4,911.8 L1590.9,912.2 L1591.3,908.7 L1591.8,913.4 L1592.2,914.6 L1592.7,916.7 L1593.2,914.4 L1593.6,916.4 L1594.1,917.1 L1594.5,911.7 L1595.0,910.8 L1595.5,915.2 L1595.9,916.4 L1596.4,912.0 L1596.9,916.2 L1597.3,908.8 L1597.8,915.7 L1598.2,914.1 L1598.7,919.4 L1599.2,917.0 L1599.6,914.2 L1600.1,914.5 L1600.5,915.2 L1601.0,908.0 L1601.5,911.4 L1601.9,913.9 L1602.4,915.3 L1602.8,915.4 L1603.3,913.0 L1603.8,918.4 L1604.2,917.2 L1604.7,919.0 L1605.1,914.3 L1605.6,916.9 L1606.1,914.4 L1606.5,915.0 L1607.0,917.4 L1607.4,914.7 L1607.9,914.0 L1608.4,918.0 L1608.8,913.9 L1609.3,907.8 L1609.7,915.9 L1610.2,913.5 L1610.7,917.1 L1611.1,912.6 L1611.6,914.2 L1612.0,911.0 L1612.5,912.5 L1613.0,914.9 L1613.4,910.3 L1613.9,913.3 L1614.3,915.5 L1614.8,914.1 L1615.3,917.2 L1615.7,915.0 L1616.2,916.4 L1616.6,917.0 L1617.1,914.5 L1617.6,918.4 L1618.0,913.8 L1618.5,920.5 L1619.0,913.4 L1619.4,916.5 L1619.9,916.9 L1620.3,916.9 L1620.8,913.4 L1621.3,914.6 L1621.7,914.7 L1622.2,912.3 L1622.6,915.5 L1623.1,915.2 L1623.6,913.9 L1624.0,912.5 L1624.5,915.1 L1624.9,914.6 L1625.4,915.0 L1625.9,913.6 L1626.3,912.1 L1626.8,917.1 L1627.2,915.1 L1627.7,914.3 L1628.2,912.2 L1628.6,909.8 L1629.1,912.7 L1629.5,912.3 L1630.0,910.6 L1630.5,916.2 L1630.9,916.0 L1631.4,916.4 L1631.8,916.5 L1632.3,916.5 L1632.8,917.7 L1633.2,911.7 L1633.7,915.4 L1634.1,913.1 L1634.6,909.8 L1635.1,910.7 L1635.5,913.4 L1636.0,913.8 L1636.4,913.7 L1636.9,915.7 L1637.4,914.0 L1637.8,916.7 L1638.3,914.1 L1638.7,917.7 L1639.2,916.6 L1639.7,917.8 L1640.1,913.5 L1640.6,917.6 L1641.1,916.2 L1641.5,918.8 L1642.0,917.2 L1642.4,917.5 L1642.9,918.8 L1643.4,915.1 L1643.8,920.4 L1644.3,915.6 L1644.7,911.5 L1645.2,919.2 L1645.7,917.8 L1646.1,921.2 L1646.6,917.6 L1647.0,920.4 L1647.5,914.2 L1648.0,915.4 L1648.4,917.5 L1648.9,916.1 L1649.3,916.9 L1649.8,914.7 L1650.3,913.0 L1650.7,916.6 L1651.2,918.8 L1651.6,918.1 L1652.1,915.8 L1652.6,921.1 L1653.0,914.6 L1653.5,914.9 L1653.9,920.9 L1654.4,912.9 L1654.9,918.2 L1655.3,914.4 L1655.8,911.0 L1656.2,917.0 L1656.7,917.8 L1657.2,916.7 L1657.6,916.9 L1658.1,915.2 L1658.5,916.3 L1659.0,916.8 L1659.5,917.4 L1659.9,916.9 L1660.4,918.1 L1660.9,915.3 L1661.3,915.9 L1661.8,918.3 L1662.2,912.7 L1662.7,919.6 L1663.2,915.2 L1663.6,917.7 L1664.1,914.6 L1664.5,913.7 L1665.0,912.9 L1665.5,911.5 L1665.9,916.1 L1666.4,908.1 L1666.8,913.2 L1667.3,915.8 L1667.8,917.3 L1668.2,909.8 L1668.7,911.3 L1669.1,914.6 L1669.6,912.6 L1670.1,911.4 L1670.5,914.1 L1671.0,915.3 L1671.4,914.4 L1671.9,912.3 L1672.4,913.5 L1672.8,915.5 L1673.3,910.7 L1673.7,915.7 L1674.2,913.6 L1674.7,909.3 L1675.1,911.2 L1675.6,911.1 L1676.0,911.4 L1676.5,910.0 L1677.0,913.6 L1677.4,919.2 L1677.9,915.9 L1678.3,923.7 L1678.8,921.5 L1679.3,912.9 L1679.7,912.7 L1680.2,914.8 L1680.6,913.6 L1681.1,913.9 L1681.6,912.9 L1682.0,917.6 L1682.5,918.0 L1683.0,917.0 L1683.4,914.5 L1683.9,913.6 L1684.3,915.0 L1684.8,912.9 L1685.3,917.1 L1685.7,914.9 L1686.2,915.4 L1686.6,915.2 L1687.1,909.6 L1687.6,912.4 L1688.0,913.7 L1688.5,911.8 L1688.9,915.0 L1689.4,912.9 L1689.9,913.5 L1690.3,913.8 L1690.8,918.2 L1691.2,915.5 L1691.7,910.1 L1692.2,913.4 L1692.6,909.2 L1693.1,907.8 L1693.5,913.3 L1694.0,907.3 L1694.5,908.6 L1694.9,909.4 L1695.4,909.1 L1695.8,913.4 L1696.3,915.5 L1696.8,914.7 L1697.2,916.4 L1697.7,913.9 L1698.1,918.7 L1698.6,910.2 L1699.1,914.7 L1699.5,912.2 L1700.0,912.8 L1700.4,913.6 L1700.9,914.2 L1701.4,914.9 L1701.8,919.0 L1702.3,916.9 L1702.7,913.2 L1703.2,917.7 L1703.7,917.6 L1704.1,910.8 L1704.6,912.6 L1705.1,911.5 L1705.5,914.4 L1706.0,913.4 L1706.4,912.2 L1706.9,912.7 L1707.4,914.4 L1707.8,917.5 L1708.3,915.9 L1708.7,917.2 L1709.2,910.1 L1709.7,913.7 L1710.1,912.7 L1710.6,911.7 L1711.0,912.3 L1711.5,911.3 L1712.0,913.8 L1712.4,915.6 L1712.9,908.7 L1713.3,914.5 L1713.8,915.0 L1714.3,916.8 L1714.7,916.9 L1715.2,915.5 L1715.6,913.2 L1716.1,916.3 L1716.6,912.9 L1717.0,914.7 L1717.5,910.8 L1717.9,916.1 L1718.4,913.7 L1718.9,913.0 L1719.3,918.2 L1719.8,915.7 L1720.2,915.6 L1720.7,916.6 L1721.2,913.7 L1721.6,909.5 L1722.1,910.2 L1722.5,911.4 L1723.0,911.6 L1723.5,911.5 L1723.9,911.2 L1724.4,913.4 L1724.8,914.2 L1725.3,912.6 L1725.8,919.2 L1726.2,918.7 L1726.7,920.1 L1727.2,913.2 L1727.6,919.6 L1728.1,914.4 L1728.5,912.1 L1729.0,916.1 L1729.5,914.3 L1729.9,913.6 L1730.4,911.8 L1730.8,917.0 L1731.3,913.4 L1731.8,912.8 L1732.2,914.1 L1732.7,914.4 L1733.1,912.5 L1733.6,915.2 L1734.1,915.9 L1734.5,916.4 L1735.0,913.7 L1735.4,914.9 L1735.9,912.3 L1736.4,912.9 L1736.8,910.3 L1737.3,914.0 L1737.7,912.2 L1738.2,911.9 L1738.7,912.2 L1739.1,911.2 L1739.6,913.0 L1740.0,911.8 L1740.5,909.5 L1741.0,912.1 L1741.4,916.6 L1741.9,918.2 L1742.3,914.7 L1742.8,917.6 L1743.3,916.3 L1743.7,916.8 L1744.2,912.8 L1744.6,912.1 L1745.1,915.9 L1745.6,912.1 L1746.0,912.9 L1746.5,914.8 L1747.0,910.6 L1747.4,912.3 L1747.9,911.1 L1748.3,906.8 L1748.8,909.3 L1749.3,910.4 L1749.7,914.7 L1750.2,917.8 L1750.6,913.9 L1751.1,917.8 L1751.6,917.0 L1752.0,917.0 L1752.5,914.8 L1752.9,909.0 L1753.4,914.4 L1753.9,914.8 L1754.3,914.7 L1754.8,915.6 L1755.2,919.5 L1755.7,921.2 L1756.2,919.0 L1756.6,918.0 L1757.1,918.8 L1757.5,918.9 L1758.0,918.6 L1758.5,917.1 L1758.9,915.8 L1759.4,918.0 L1759.8,914.6 L1760.3,911.8 L1760.8,912.4 L1761.2,914.9 L1761.7,912.9 L1762.1,912.2 L1762.6,910.7 L1763.1,916.0 L1763.5,911.5 L1764.0,914.4 L1764.4,913.8 L1764.9,913.4 L1765.4,917.0 L1765.8,917.0 L1766.3,915.5 L1766.7,913.3 L1767.2,915.0 L1767.7,915.6 L1768.1,913.0 L1768.6,910.0 L1769.1,907.9 L1769.5,911.4 L1770.0,911.2 L1770.4,911.0 L1770.9,911.1 L1771.4,913.0 L1771.8,912.1 L1772.3,910.8 L1772.7,911.2 L1773.2,911.6 L1773.7,914.2 L1774.1,913.7 L1774.6,914.9 L1775.0,912.3 L1775.5,912.5 L1776.0,915.3 L1776.4,912.6 L1776.9,916.0 L1777.3,915.5 L1777.8,917.3 L1778.3,914.3 L1778.7,915.9 L1779.2,914.7 L1779.6,913.2 L1780.1,913.3 L1780.6,913.4 L1781.0,909.7 L1781.5,908.9 L1781.9,908.7 L1782.4,908.0 L1782.9,910.6 L1783.3,911.1 L1783.8,906.7 L1784.2,907.0 L1784.7,908.2 L1785.2,909.0 L1785.6,907.3 L1786.1,905.0 L1786.5,903.2 L1787.0,898.6 L1787.5,902.7 L1787.9,900.7 L1788.4,901.2 L1788.8,900.4 L1789.3,901.8 L1789.8,903.6 L1790.2,899.7 L1790.7,901.8 L1791.2,899.3 L1791.6,902.7 L1792.1,900.7 L1792.5,900.0 L1793.0,905.8 L1793.5,905.7 L1793.9,902.5 L1794.4,904.9 L1794.8,909.5 L1795.3,907.5 L1795.8,908.4 L1796.2,907.5 L1796.7,903.4 L1797.1,907.7 L1797.6,902.3 L1798.1,907.1 L1798.5,908.5 L1799.0,904.5 L1799.4,906.4 L1799.9,905.8 L1800.4,905.0 L1800.8,907.4 L1801.3,907.8 L1801.7,914.6 L1802.2,913.3 L1802.7,910.9 L1803.1,911.4 L1803.6,910.5 L1804.0,913.8 L1804.5,911.9 L1805.0,911.5 L1805.4,915.4 L1805.9,915.3 L1806.3,915.7 L1806.8,914.0 L1807.3,914.6 L1807.7,915.7 L1808.2,914.2 L1808.6,914.3 L1809.1,917.4 L1809.6,913.2 L1810.0,912.9 L1810.5,911.8 L1810.9,912.9 L1811.4,910.9 L1811.9,911.3 L1812.3,914.7 L1812.8,913.0 L1813.3,912.2 L1813.7,912.2 L1814.2,915.5 L1814.6,915.4 L1815.1,913.1 L1815.6,915.7 L1816.0,909.0 L1816.5,916.5 L1816.9,917.1 L1817.4,914.5 L1817.9,916.8 L1818.3,920.7 L1818.8,916.2 L1819.2,918.2 L1819.7,917.4 L1820.2,919.4 L1820.6,917.2 L1821.1,914.5 L1821.5,913.3 L1822.0,914.9 L1822.5,914.1 L1822.9,914.8 L1823.4,913.5 L1823.8,914.8 L1824.3,917.6 L1824.8,913.9 L1825.2,916.8 L1825.7,914.6 L1826.1,917.2 L1826.6,914.4 L1827.1,914.9 L1827.5,914.1 L1828.0,912.8 L1828.4,912.7 L1828.9,913.6 L1829.4,914.5 L1829.8,918.3 L1830.3,916.1 L1830.7,920.1 L1831.2,919.3 L1831.7,914.5 L1832.1,913.6 L1832.6,910.0 L1833.1,912.0 L1833.5,911.6 L1834.0,914.9 L1834.4,913.4 L1834.9,911.8 L1835.4,912.8 L1835.8,912.8 L1836.3,913.1 L1836.7,915.1 L1837.2,915.0 L1837.7,916.4 L1838.1,913.2 L1838.6,915.3 L1839.0,916.4 L1839.5,914.2 L1840.0,915.3 L1840.4,910.9 L1840.9,908.2 L1841.3,910.7 L1841.8,913.3 L1842.3,915.7 L1842.7,909.2 L1843.2,912.9 L1843.6,916.2 L1844.1,911.3 L1844.6,916.6 L1845.0,913.9 L1845.5,913.5 L1845.9,914.1 L1846.4,916.4 L1846.9,909.9 L1847.3,916.2 L1847.8,914.9 L1848.2,915.8 L1848.7,919.4 L1849.2,917.5 L1849.6,916.1 L1850.1,914.6 L1850.5,916.7 L1851.0,914.5 L1851.5,915.4 L1851.9,913.1 L1852.4,919.5 L1852.8,913.6 L1853.3,916.6 L1853.8,916.8 L1854.2,921.5 L1854.7,917.5 L1855.2,913.9 L1855.6,910.2 L1856.1,916.4 L1856.5,916.3 L1857.0,914.1 L1857.5,914.5 L1857.9,915.9 L1858.4,914.1 L1858.8,913.3 L1859.3,910.1 L1859.8,909.2 L1860.2,907.3 L1860.7,909.8 L1861.1,911.5 L1861.6,913.7 L1862.1,913.0 L1862.5,917.4 L1863.0,910.9 L1863.4,914.3 L1863.9,911.2 L1864.4,915.1 L1864.8,910.8 L1865.3,912.0 L1865.7,913.3 L1866.2,914.4 L1866.7,914.6 L1867.1,908.7 L1867.6,909.7 L1868.0,912.1 L1868.5,912.1 L1869.0,914.4 L1869.4,917.0 L1869.9,917.1 L1870.3,914.3 L1870.8,912.8 L1871.3,914.5 L1871.7,910.3 L1872.2,911.2 L1872.6,912.5 L1873.1,917.5 L1873.6,915.1 L1874.0,915.0 L1874.5,917.6 L1874.9,919.5 L1875.4,910.9 L1875.9,913.5 L1876.3,915.4 L1876.8,911.2 L1877.3,912.1 L1877.7,913.1 L1878.2,913.3 L1878.6,912.4 L1879.1,911.4 L1879.6,914.4 L1880.0,914.8 L1880.5,912.6 L1880.9,919.1 L1881.4,912.4 L1881.9,913.1 L1882.3,912.3 L1882.8,912.8 L1883.2,911.6 L1883.7,911.6 L1884.2,911.3 L1884.6,911.7 L1885.1,911.0 L1885.5,913.7 L1886.0,911.3 L1886.5,917.1 L1886.9,912.9 L1887.4,911.8 L1887.8,914.9 L1888.3,913.1 L1888.8,909.8 L1889.2,913.6 L1889.7,916.0 L1890.1,921.0 L1890.6,914.5 L1891.1,915.3 L1891.5,914.4 L1892.0,911.4 L1892.4,915.6 L1892.9,915.1 L1893.4,916.7 L1893.8,915.4 L1894.3,915.3 L1894.7,913.4 L1895.2,913.3 L1895.7,915.8 L1896.1,915.3 L1896.6,911.6 L1897.1,917.0 L1897.5,913.9 L1898.0,912.3 L1898.4,913.9 L1898.9,913.9 L1899.4,910.8 L1899.8,912.9 L1900.3,914.1 L1900.7,915.0 L1901.2,912.5 L1901.7,913.4 L1902.1,911.2 L1902.6,914.6 L1903.0,914.4 L1903.5,915.1 L1904.0,914.6 L1904.4,917.6 L1904.9,914.7 L1905.3,915.9 L1905.8,918.3 L1906.3,921.8 L1906.7,918.5 L1907.2,910.8 L1907.6,913.3 L1908.1,912.8 L1908.6,914.2 L1909.0,912.6 L1909.5,917.6 L1909.9,917.8 L1910.4,917.1 L1910.9,913.6 L1911.3,912.6 L1911.8,913.8 L1912.2,915.4 L1912.7,917.8 L1913.2,913.1 L1913.6,914.9 L1914.1,913.9 L1914.5,914.0 L1915.0,915.1 L1915.5,916.0 L1915.9,915.8 L1916.4,917.1 L1916.8,913.7 L1917.3,914.7 L1917.8,912.7 L1918.2,919.4 L1918.7,914.1 L1919.2,917.5 L1919.6,917.8 L1920.1,918.6 L1920.5,917.8 L1921.0,918.4 L1921.5,912.8 L1921.9,914.9 L1922.4,912.8 L1922.8,912.4 L1923.3,915.1 L1923.8,914.5 L1924.2,914.8 L1924.7,912.2 L1925.1,914.5 L1925.6,915.0 L1926.1,914.2 L1926.5,916.1 L1927.0,911.8 L1927.4,918.1 L1927.9,913.2 L1928.4,912.2 L1928.8,916.9 L1929.3,912.5 L1929.7,913.9 L1930.2,913.1 L1930.7,917.6 L1931.1,914.6 L1931.6,917.0 L1932.0,915.5 L1932.5,911.9 L1933.0,915.4 L1933.4,920.1 L1933.9,918.4 L1934.3,917.7 L1934.8,913.1 L1935.3,916.8 L1935.7,918.8 L1936.2,913.3 L1936.6,915.0 L1937.1,914.3 L1937.6,915.7 L1938.0,909.9 L1938.5,912.1 L1938.9,915.5 L1939.4,913.9 L1939.9,913.8 L1940.3,913.1 L1940.8,911.8 L1941.3,915.0 L1941.7,914.3 L1942.2,908.0 L1942.6,912.6 L1943.1,914.4 L1943.6,914.0 L1944.0,917.0 L1944.5,913.1 L1944.9,911.5 L1945.4,913.9 L1945.9,910.0 L1946.3,912.8 L1946.8,912.3 L1947.2,915.1 L1947.7,915.7 L1948.2,917.4 L1948.6,914.1 L1949.1,915.6 L1949.5,915.9 L1950.0,917.8 L1950.5,917.4 L1950.9,915.2 L1951.4,911.4 L1951.8,910.5 L1952.3,912.0 L1952.8,910.1 L1953.2,907.7 L1953.7,911.9 L1954.1,908.3 L1954.6,911.5 L1955.1,909.2 L1955.5,912.9 L1956.0,909.6 L1956.4,914.9 L1956.9,912.3 L1957.4,913.9 L1957.8,917.5 L1958.3,916.1 L1958.7,910.9 L1959.2,912.4 L1959.7,910.8 L1960.1,913.1 L1960.6,919.5 L1961.0,913.1 L1961.5,915.1 L1962.0,915.3 L1962.4,915.6 L1962.9,916.5 L1963.4,917.3 L1963.8,913.2 L1964.3,915.6 L1964.7,918.4 L1965.2,918.0 L1965.7,914.4 L1966.1,914.5 L1966.6,913.6 L1967.0,915.7 L1967.5,913.7 L1968.0,915.2 L1968.4,916.9 L1968.9,911.4 L1969.3,914.3 L1969.8,914.8 L1970.3,916.2 L1970.7,912.9 L1971.2,910.1 L1971.6,912.9 L1972.1,911.8"/>
<path stroke="#ff0000" d="M360.6,1221.0 L361.1,1221.4 L361.5,1222.3 L362.0,1229.1 L362.4,1222.2 L362.9,1230.0 L363.4,1222.1 L363.8,1223.5 L364.3,1223.3 L364.7,1223.7 L365.2,1225.4 L365.7,1228.1 L366.1,1227.7 L366.6,1222.9 L367.0,1228.7 L367.5,1227.3 L368.0,1227.8 L368.4,1226.3 L368.9,1225.3 L369.3,1224.2 L369.8,1227.1 L370.3,1228.9 L370.7,1231.1 L371.2,1230.0 L371.7,1234.4 L372.1,1230.5 L372.6,1226.9 L373.0,1232.6 L373.5,1230.3 L374.0,1221.8 L374.4,1231.9 L374.9,1233.2 L375.3,1229.5 L375.8,1222.9 L376.3,1222.2 L376.7,1231.8 L377.2,1228.0 L377.6,1231.0 L378.1,1234.3 L378.6,1239.3 L379.0,1231.7 L379.5,1237.2 L379.9,1233.9 L380.4,1234.4 L380.9,1229.3 L381.3,1231.2 L381.8,1238.0 L382.2,1236.2 L382.7,1233.6 L383.2,1241.2 L383.6,1239.1 L384.1,1237.0 L384.5,1241.1 L385.0,1238.6 L385.5,1238.7 L385.9,1232.4 L386.4,1234.6 L386.8,1230.7 L387.3,1233.4 L387.8,1232.2 L388.2,1233.8 L388.7,1231.0 L389.1,1233.0 L389.6,1235.1 L390.1,1229.0 L390.5,1229.6 L391.0,1226.3 L391.4,1233.6 L391.9,1235.3 L392.4,1238.1 L392.8,1244.8 L393.3,1237.3 L393.8,1231.4 L394.2,1234.1 L394.7,1237.7 L395.1,1227.5 L395.6,1229.7 L396.1,1228.1 L396.5,1227.7 L397.0,1226.9 L397.4,1225.9 L397.9,1232.8 L398.4,1229.4 L398.8,1230.5 L399.3,1226.0 L399.7,1231.7 L400.2,1223.8 L400.7,1226.3 L401.1,1223.4 L401.6,1230.1 L402.0,1226.2 L402.5,1228.1 L403.0,1234.0 L403.4,1231.3 L403.9,1232.6 L404.3,1234.5 L404.8,1234.1 L405.3,1235.6 L405.7,1232.3 L406.2,1229.5 L406.6,1232.1 L407.1,1234.0 L407.6,1226.9 L408.0,1231.1 L408.5,1230.0 L408.9,1230.5 L409.4,1231.4 L409.9,1228.2 L410.3,1231.2 L410.8,1229.5 L411.2,1233.6 L411.7,1234.4 L412.2,1231.2 L412.6,1225.1 L413.1,1230.1 L413.5,1224.8 L414.0,1227.6 L414.5,1225.8 L414.9,1227.0 L415.4,1224.3 L415.9,1219.2 L416.3,1222.0 L416.8,1228.8 L417.2,1230.0 L417.7,1225.9 L418.2,1231.1 L418.6,1226.4 L419.1,1230.2 L419.5,1224.7 L420.0,1221.4 L420.5,1223.1 L420.9,1224.8 L421.4,1225.3 L421.8,1226.2 L422.3,1226.3 L422.8,1223.1 L423.2,1223.4 L423.7,1225.5 L424.1,1230.1 L424.6,1227.9 L425.1,1225.5 L425.5,1226.3 L426.0,1230.5 L426.4,1225.3 L426.9,1220.2 L427.4,1231.1 L427.8,1227.6 L428.3,1223.4 L428.7,1228.9 L429.2,1228.5 L429.7,1226.5 L430.1,1224.9 L430.6,1227.1 L431.0,1223.2 L431.5,1231.4 L432.0,1224.7 L432.4,1226.2 L432.9,1228.7 L433.3,1228.1 L433.8,1229.8 L434.3,1226.7 L434.7,1231.8 L435.2,1230.3 L435.6,1233.3 L436.1,1231.8 L436.6,1228.6 L437.0,1231.5 L437.5,1228.8 L438.0,1229.5 L438.4,1226.7 L438.9,1224.7 L439.3,1222.4 L439.8,1230.5 L440.3,1225.6 L440.7,1222.6 L441.2,1221.3 L441.6,1221.4 L442.1,1229.5 L442.6,1227.2 L443.0,1224.6 L443.5,1223.8 L443.9,1225.7 L444.4,1225.6 L444.9,1225.7 L445.3,1228.4 L445.8,1225.5 L446.2,1223.2 L446.7,1225.7 L447.2,1220.6 L447.6,1231.2 L448.1,1224.1 L448.5,1218.7 L449.0,1221.6 L449.5,1221.0 L449.9,1225.6 L450.4,1230.0 L450.8,1228.6 L451.3,1223.3 L451.8,1233.0 L452.2,1230.6 L452.7,1232.5 L453.1,1229.1 L453.6,1228.6 L454.1,1225.3 L454.5,1228.5 L455.0,1220.9 L455.4,1223.7 L455.9,1226.9 L456.4,1228.8 L456.8,1231.0 L457.3,1227.3 L457.8,1222.5 L458.2,1228.5 L458.7,1230.8 L459.1,1228.0 L459.6,1229.4 L460.1,1230.6 L460.5,1233.5 L461.0,1228.2 L461.4,1223.3 L461.9,1222.8 L462.4,1222.1 L462.8,1223.4 L463.3,1222.5 L463.7,1221.1 L464.2,1224.0 L464.7,1222.7 L465.1,1224.2 L465.6,1219.7 L466.0,1225.5 L466.5,1221.5 L467.0,1221.8 L467.4,1222.5 L467.9,1222.9 L468.3,1225.9 L468.8,1225.9 L469.3,1225.3 L469.7,1225.2 L470.2,1227.8 L470.6,1226.7 L471.1,1228.3 L471.6,1230.3 L472.0,1227.6 L472.5,1231.4 L472.9,1229.2 L473.4,1226.4 L473.9,1226.3 L474.3,1231.0 L474.8,1227.5 L475.2,1228.5 L475.7,1221.3 L476.2,1222.3 L476.6,1223.1 L477.1,1226.7 L477.5,1227.3 L478.0,1225.5 L478.5,1227.4 L478.9,1228.5 L479.4,1226.5 L479.9,1232.6 L480.3,1234.9 L480.8,1232.1 L481.2,1232.2 L481.7,1229.0 L482.2,1231.2 L482.6,1229.4 L483.1,1234.8 L483.5,1225.3 L484.0,1228.3 L484.5,1231.3 L484.9,1227.4 L485.4,1224.4 L485.8,1225.1 L486.3,1227.2 L486.8,1224.8 L487.2,1224.1 L487.7,1230.0 L488.1,1230.2 L488.6,1227.1 L489.1,1222.0 L489.5,1220.3 L490.0,1224.4 L490.4,1221.4 L490.9,1223.8 L491.4,1227.8 L491.8,1230.5 L492.3,1230.7 L492.7,1228.7 L493.2,1224.4 L493.7,1225.0 L494.1,1229.6 L494.6,1228.1 L495.0,1221.7 L495.5,1223.7 L496.0,1227.6 L496.4,1223.7 L496.9,1221.8 L497.3,1223.1 L497.8,1224.7 L498.3,1221.2 L498.7,1226.2 L499.2,1227.3 L499.6,1228.9 L500.1,1221.7 L500.6,1221.7 L501.0,1228.4 L501.5,1227.2 L502.0,1227.8 L502.4,1226.5 L502.9,1225.6 L503.3,1226.8 L503.8,1228.6 L504.3,1229.5 L504.7,1230.7 L505.2,1234.8 L505.6,1227.2 L506.1,1228.9 L506.6,1226.1 L507.0,1225.9 L507.5,1227.8 L507.9,1226.0 L508.4,1223.6 L508.9,1225.2 L509.3,1229.4 L509.8,1230.4 L510.2,1227.5 L510.7,1228.1 L511.2,1226.7 L511.6,1226.4 L512.1,1222.7 L512.5,1224.1 L513.0,1217.7 L513.5,1227.2 L513.9,1229.0 L514.4,1222.9 L514.8,1227.4 L515.3,1228.6 L515.8,1224.3 L516.2,1231.5 L516.7,1223.7 L517.1,1225.1 L517.6,1224.6 L518.1,1227.4 L518.5,1220.8 L519.0,1222.8 L519.4,1223.1 L519.9,1221.7 L520.4,1225.4 L520.8,1224.2 L521.3,1229.2 L521.7,1229.0 L522.2,1225.7 L522.7,1226.4 L523.1,1224.7 L523.6,1228.7 L524.1,1227.5 L524.5,1229.5 L525.0,1227.3 L525.4,1226.0 L525.9,1225.0 L526.4,1225.7 L526.8,1228.6 L527.3,1225.1 L527.7,1228.5 L528.2,1231.6 L528.7,1227.2 L529.1,1229.2 L529.6,1228.8 L530.0,1229.0 L530.5,1233.7 L531.0,1230.9 L531.4,1226.2 L531.9,1224.1 L532.3,1222.2 L532.8,1227.1 L533.3,1225.1 L533.7,1223.8 L534.2,1221.5 L534.6,1231.2 L535.1,1223.8 L535.6,1229.2 L536.0,1232.1 L536.5,1224.2 L536.9,1230.7 L537.4,1230.9 L537.9,1225.5 L538.3,1224.6 L538.8,1227.4 L539.2,1229.5 L539.7,1231.2 L540.2,1226.1 L540.6,1232.3 L541.1,1229.3 L541.5,1222.4 L542.0,1224.4 L542.5,1223.9 L542.9,1227.2 L543.4,1231.9 L543.9,1227.0 L544.3,1232.5 L544.8,1224.7 L545.2,1222.4 L545.7,1228.9 L546.2,1223.0 L546.6,1225.4 L547.1,1225.6 L547.5,1230.5 L548.0,1225.8 L548.5,1223.6 L548.9,1231.4 L549.4,1228.6 L549.8,1229.4 L550.3,1231.8 L550.8,1223.6 L551.2,1225.2 L551.7,1223.7 L552.1,1220.0 L552.6,1224.3 L553.1,1213.4 L553.5,1224.7 L554.0,1227.6 L554.4,1223.0 L554.9,1223.7 L555.4,1227.1 L555.8,1226.5 L556.3,1221.5 L556.7,1223.4 L557.2,1224.1 L557.7,1224.3 L558.1,1229.8 L558.6,1225.6 L559.0,1229.2 L559.5,1226.5 L560.0,1229.6 L560.4,1223.5 L560.9,1223.9 L561.3,1217.4 L561.8,1225.0 L562.3,1221.3 L562.7,1224.7 L563.2,1222.8 L563.6,1226.8 L564.1,1226.0 L564.6,1233.1 L565.0,1229.9 L565.5,1223.0 L566.0,1224.6 L566.4,1223.8 L566.9,1227.0 L567.3,1224.5 L567.8,1228.0 L568.3,1227.1 L568.7,1223.1 L569.2,1223.0 L569.6,1226.9 L570.1,1225.3 L570.6,1224.6 L571.0,1225.3 L571.5,1224.6 L571.9,1226.2 L572.4,1221.5 L572.9,1226.1 L573.3,1226.6 L573.8,1221.4 L574.2,1220.9 L574.7,1221.6 L575.2,1226.0 L575.6,1228.5 L576.1,1224.8 L576.5,1222.3 L577.0,1225.8 L577.5,1226.7 L577.9,1229.8 L578.4,1229.5 L578.8,1220.0 L579.3,1229.1 L579.8,1227.9 L580.2,1228.2 L580.7,1228.3 L581.1,1234.1 L581.6,1229.9 L582.1,1230.1 L582.5,1231.0 L583.0,1231.9 L583.4,1230.1 L583.9,1233.6 L584.4,1226.2 L584.8,1229.3 L585.3,1231.8 L585.7,1228.3 L586.2,1226.8 L586.7,1226.8 L587.1,1225.3 L587.6,1222.7 L588.1,1226.4 L588.5,1223.9 L589.0,1224.0 L589.4,1229.7 L589.9,1223.7 L590.4,1228.2 L590.8,1226.7 L591.3,1226.4 L591.7,1229.4 L592.2,1224.9 L592.7,1225.0 L593.1,1227.9 L593.6,1236.7 L594.0,1224.7 L594.5,1228.3 L595.0,1229.1 L595.4,1228.6 L595.9,1230.0 L596.3,1228.5 L596.8,1226.6 L597.3,1232.2 L597.7,1229.1 L598.2,1231.5 L598.6,1230.4 L599.1,1230.5 L599.6,1228.4 L600.0,1226.2 L600.5,1228.8 L600.9,1226.1 L601.4,1224.2 L601.9,1232.0 L602.3,1225.3 L602.8,1227.8 L603.2,1227.5 L603.7,1224.6 L604.2,1228.2 L604.6,1229.6 L605.1,1224.6 L605.5,1225.4 L606.0,1227.4 L606.5,1221.2 L606.9,1232.7 L607.4,1235.4 L607.9,1232.0 L608.3,1234.7 L608.8,1230.6 L609.2,1233.0 L609.7,1232.4 L610.2,1230.0 L610.6,1231.6 L611.1,1233.9 L611.5,1230.2 L612.0,1226.1 L612.5,1227.3 L612.9,1225.2 L613.4,1222.6 L613.8,1224.4 L614.3,1226.7 L614.8,1228.5 L615.2,1225.0 L615.7,1221.7 L616.1,1221.8 L616.6,1222.7 L617.1,1227.3 L617.5,1223.5 L618.0,1223.2 L618.4,1221.8 L618.9,1228.8 L619.4,1227.3 L619.8,1225.1 L620.3,1224.9 L620.7,1226.4 L621.2,1222.8 L621.7,1224.4 L622.1,1220.1 L622.6,1224.5 L623.0,1222.9 L623.5,1229.6 L624.0,1223.6 L624.4,1226.3 L624.9,1222.6 L625.3,1225.1 L625.8,1221.3 L626.3,1226.6 L626.7,1230.4 L627.2,1227.5 L627.6,1228.4 L628.1,1233.1 L628.6,1234.6 L629.0,1227.9 L629.5,1225.6 L630.0,1225.3 L630.4,1226.3 L630.9,1226.3 L631.3,1221.6 L631.8,1223.9 L632.3,1228.7 L632.7,1229.3 L633.2,1224.8 L633.6,1225.0 L634.1,1229.3 L634.6,1230.2 L635.0,1225.8 L635.5,1229.5 L635.9,1226.2 L636.4,1231.5 L636.9,1231.0 L637.3,1233.0 L637.8,1228.4 L638.2,1229.2 L638.7,1232.1 L639.2,1226.4 L639.6,1227.7 L640.1,1226.6 L640.5,1222.1 L641.0,1223.5 L641.5,1225.0 L641.9,1227.7 L642.4,1230.5 L642.8,1229.6 L643.3,1229.2 L643.8,1224.6 L644.2,1230.2 L644.7,1228.2 L645.1,1225.8 L645.6,1224.4 L646.1,1222.9 L646.5,1223.1 L647.0,1228.0 L647.4,1223.0 L647.9,1227.0 L648.4,1231.4 L648.8,1232.0 L649.3,1230.8 L649.7,1230.9 L650.2,1228.6 L650.7,1233.3 L651.1,1232.6 L651.6,1233.1 L652.1,1229.5 L652.5,1233.5 L653.0,1227.2 L653.4,1230.5 L653.9,1229.0 L654.4,1227.7 L654.8,1228.5 L655.3,1221.6 L655.7,1231.4 L656.2,1233.6 L656.7,1230.0 L657.1,1222.9 L657.6,1227.9 L658.0,1222.5 L658.5,1227.0 L659.0,1225.4 L659.4,1232.6 L659.9,1226.1 L660.3,1226.1 L660.8,1232.3 L661.3,1226.5 L661.7,1223.1 L662.2,1230.3 L662.6,1232.6 L663.1,1231.3 L663.6,1230.4 L664.0,1227.0 L664.5,1225.1 L664.9,1231.6 L665.4,1231.1 L665.9,1233.9 L666.3,1230.7 L666.8,1227.0 L667.2,1233.0 L667.7,1224.7 L668.2,1223.6 L668.6,1222.8 L669.1,1228.3 L669.5,1232.1 L670.0,1229.5 L670.5,1232.2 L670.9,1234.4 L671.4,1231.3 L671.8,1232.3 L672.3,1222.3 L672.8,1225.1 L673.2,1224.8 L673.7,1230.9 L674.2,1225.0 L674.6,1230.8 L675.1,1227.9 L675.5,1233.2 L676.0,1228.2 L676.5,1233.7 L676.9,1228.5 L677.4,1227.9 L677.8,1230.8 L678.3,1227.2 L678.8,1229.2 L679.2,1228.9 L679.7,1225.6 L680.1,1223.5 L680.6,1226.8 L681.1,1221.9 L681.5,1222.1 L682.0,1222.5 L682.4,1220.1 L682.9,1228.7 L683.4,1220.9 L683.8,1223.9 L684.3,1226.6 L684.7,1226.6 L685.2,1223.8 L685.7,1223.8 L686.1,1225.6 L686.6,1231.5 L687.0,1233.0 L687.5,1229.5 L688.0,1228.6 L688.4,1232.5 L688.9,1227.9 L689.3,1227.8 L689.8,1227.1 L690.3,1229.3 L690.7,1222.3 L691.2,1221.7 L691.6,1219.6 L692.1,1221.8 L692.6,1226.5 L693.0,1222.7 L693.5,1222.3 L694.0,1226.1 L694.4,1229.5 L694.9,1225.0 L695.3,1224.7 L695.8,1229.9 L696.3,1228.6 L696.7,1231.0 L697.2,1226.4 L697.6,1226.8 L698.1,1222.6 L698.6,1230.1 L699.0,1224.3 L699.5,1229.2 L699.9,1228.4 L700.4,1233.0 L700.9,1229.7 L701.3,1231.4 L701.8,1230.8 L702.2,1230.5 L702.7,1229.8 L703.2,1228.3 L703.6,1229.4 L704.1,1230.2 L704.5,1223.5 L705.0,1225.5 L705.5,1227.6 L705.9,1222.9 L706.4,1226.6 L706.8,1226.0 L707.3,1233.2 L707.8,1230.9 L708.2,1224.4 L708.7,1229.6 L709.1,1230.3 L709.6,1233.6 L710.1,1231.4 L710.5,1229.1 L711.0,1229.4 L711.4,1229.0 L711.9,1233.4 L712.4,1230.9 L712.8,1230.2 L713.3,1227.3 L713.7,1227.2 L714.2,1228.4 L714.7,1230.2 L715.1,1230.3 L715.6,1228.3 L716.1,1234.0 L716.5,1232.4 L717.0,1233.8 L717.4,1233.8 L717.9,1227.8 L718.4,1231.6 L718.8,1227.5 L719.3,1224.6 L719.7,1227.5 L720.2,1229.4 L720.7,1233.2 L721.1,1225.0 L721.6,1232.1 L722.0,1234.3 L722.5,1225.7 L723.0,1233.4 L723.4,1233.7 L723.9,1233.4 L724.3,1235.1 L724.8,1237.6 L725.3,1230.5 L725.7,1229.5 L726.2,1228.9 L726.6,1231.5 L727.1,1232.8 L727.6,1233.2 L728.0,1228.2 L728.5,1229.1 L728.9,1232.6 L729.4,1230.6 L729.9,1234.7 L730.3,1230.0 L730.8,1234.2 L731.2,1231.4 L731.7,1231.2 L732.2,1237.5 L732.6,1227.8 L733.1,1229.8 L733.5,1232.6 L734.0,1233.5 L734.5,1232.8 L734.9,1233.5 L735.4,1231.6 L735.8,1231.3 L736.3,1228.3 L736.8,1227.6 L737.2,1231.1 L737.7,1230.9 L738.2,1226.4 L738.6,1228.0 L739.1,1230.9 L739.5,1235.8 L740.0,1234.6 L740.5,1234.4 L740.9,1229.5 L741.4,1232.6 L741.8,1233.3 L742.3,1231.2 L742.8,1227.6 L743.2,1223.4 L743.7,1228.4 L744.1,1223.5 L744.6,1227.9 L745.1,1228.6 L745.5,1230.9 L746.0,1227.5 L746.4,1231.9 L746.9,1228.6 L747.4,1232.3 L747.8,1225.8 L748.3,1228.8 L748.7,1228.0 L749.2,1230.3 L749.7,1223.1 L750.1,1226.3 L750.6,1228.1 L751.0,1229.5 L751.5,1231.7 L752.0,1232.0 L752.4,1229.3 L752.9,1231.4 L753.3,1228.4 L753.8,1220.7 L754.3,1226.4 L754.7,1226.2 L755.2,1223.0 L755.6,1228.9 L756.1,1223.4 L756.6,1228.5 L757.0,1232.8 L757.5,1230.8 L757.9,1232.5 L758.4,1228.2 L758.9,1230.6 L759.3,1226.6 L759.8,1233.5 L760.3,1229.2 L760.7,1226.5 L761.2,1226.8 L761.6,1228.0 L762.1,1226.0 L762.6,1225.7 L763.0,1227.6 L763.5,1227.0 L763.9,1225.1 L764.4,1227.5 L764.9,1235.4 L765.3,1232.9 L765.8,1230.3 L766.2,1226.2 L766.7,1227.3 L767.2,1225.1 L767.6,1223.6 L768.1,1224.4 L768.5,1227.9 L769.0,1222.0 L769.5,1227.0 L769.9,1226.1 L770.4,1223.6 L770.8,1229.2 L771.3,1219.2 L771.8,1218.3 L772.2,1226.3 L772.7,1227.8 L773.1,1233.0 L773.6,1225.9 L774.1,1229.1 L774.5,1230.1 L775.0,1230.1 L775.4,1226.3 L775.9,1226.3 L776.4,1225.8 L776.8,1226.8 L777.3,1229.1 L777.7,1219.0 L778.2,1218.6 L778.7,1219.3 L779.1,1216.7 L779.6,1209.0 L780.1,1195.3 L780.5,1184.6 L781.0,1172.0 L781.4,1154.7 L781.9,1144.3 L782.4,1124.5 L782.8,1115.9 L783.3,1109.9 L783.7,1102.7 L784.2,1105.3 L784.7,1115.4 L785.1,1120.0 L785.6,1143.4 L786.0,1153.1 L786.5,1166.9 L787.0,1182.8 L787.4,1191.9 L787.9,1197.9 L788.3,1212.4 L788.8,1218.3 L789.3,1220.2 L789.7,1220.4 L790.2,1220.0 L790.6,1221.8 L791.1,1226.2 L791.6,1219.5 L792.0,1220.2 L792.5,1219.6 L792.9,1228.3 L793.4,1230.6 L793.9,1230.1 L794.3,1231.1 L794.8,1230.4 L795.2,1232.8 L795.7,1231.6 L796.2,1226.2 L796.6,1232.6 L797.1,1230.0 L797.5,1226.9 L798.0,1225.3 L798.5,1226.8 L798.9,1223.4 L799.4,1227.0 L799.8,1225.4 L800.3,1224.3 L800.8,1225.4 L801.2,1228.3 L801.7,1225.2 L802.2,1225.4 L802.6,1228.5 L803.1,1225.8 L803.5,1230.6 L804.0,1234.5 L804.5,1231.4 L804.9,1234.6 L805.4,1230.0 L805.8,1237.7 L806.3,1233.9 L806.8,1228.4 L807.2,1227.5 L807.7,1227.9 L808.1,1223.8 L808.6,1228.5 L809.1,1229.0 L809.5,1225.1 L810.0,1228.8 L810.4,1227.8 L810.9,1226.3 L811.4,1230.6 L811.8,1230.3 L812.3,1231.2 L812.7,1228.1 L813.2,1227.1 L813.7,1225.8 L814.1,1226.9 L814.6,1223.4 L815.0,1228.5 L815.5,1228.6 L816.0,1229.8 L816.4,1225.6 L816.9,1228.8 L817.3,1229.3 L817.8,1231.2 L818.3,1227.0 L818.7,1223.9 L819.2,1233.7 L819.6,1231.1 L820.1,1232.2 L820.6,1233.1 L821.0,1231.0 L821.5,1231.5 L821.9,1228.7 L822.4,1227.0 L822.9,1223.3 L823.3,1227.8 L823.8,1226.8 L824.3,1229.4 L824.7,1229.3 L825.2,1231.6 L825.6,1234.4 L826.1,1230.6 L826.6,1229.0 L827.0,1234.6 L827.5,1231.4 L827.9,1230.1 L828.4,1234.4 L828.9,1221.8 L829.3,1222.2 L829.8,1223.0 L830.2,1224.1 L830.7,1229.8 L831.2,1234.5 L831.6,1227.8 L832.1,1226.9 L832.5,1226.9 L833.0,1226.4 L833.5,1221.9 L833.9,1222.2 L834.4,1224.6 L834.8,1226.4 L835.3,1219.1 L835.8,1222.9 L836.2,1224.4 L836.7,1228.1 L837.1,1229.2 L837.6,1233.5 L838.1,1227.7 L838.5,1227.1 L839.0,1228.8 L839.4,1228.0 L839.9,1226.9 L840.4,1224.8 L840.8,1231.7 L841.3,1230.1 L841.7,1224.0 L842.2,1225.1 L842.7,1224.0 L843.1,1228.0 L843.6,1221.4 L844.0,1225.9 L844.5,1228.0 L845.0,1230.9 L845.4,1228.7 L845.9,1228.8 L846.4,1229.1 L846.8,1223.6 L847.3,1224.2 L847.7,1227.2 L848.2,1229.1 L848.7,1229.5 L849.1,1228.2 L849.6,1237.5 L850.0,1229.4 L850.5,1230.7 L851.0,1223.7 L851.4,1227.5 L851.9,1228.5 L852.3,1227.7 L852.8,1230.0 L853.3,1230.8 L853.7,1229.6 L854.2,1234.9 L854.6,1228.5 L855.1,1231.7 L855.6,1227.7 L856.0,1227.0 L856.5,1223.0 L856.9,1221.1 L857.4,1222.1 L857.9,1227.8 L858.3,1227.2 L858.8,1226.4 L859.2,1226.0 L859.7,1223.3 L860.2,1224.7 L860.6,1226.8 L861.1,1221.8 L861.5,1225.0 L862.0,1222.8 L862.5,1228.6 L862.9,1227.1 L863.4,1227.8 L863.8,1227.9 L864.3,1230.8 L864.8,1226.8 L865.2,1231.7 L865.7,1227.4 L866.2,1224.7 L866.6,1227.0 L867.1,1229.6 L867.5,1231.1 L868.0,1227.8 L868.5,1232.3 L868.9,1232.4 L869.4,1232.6 L869.8,1227.7 L870.3,1232.0 L870.8,1226.4 L871.2,1225.2 L871.7,1226.4 L872.1,1229.3 L872.6,1228.8 L873.1,1234.4 L873.5,1231.3 L874.0,1227.3 L874.4,1227.3 L874.9,1234.7 L875.4,1229.3 L875.8,1229.0 L876.3,1224.7 L876.7,1225.8 L877.2,1226.4 L877.7,1227.8 L878.1,1225.6 L878.6,1226.6 L879.0,1226.0 L879.5,1226.5 L880.0,1229.3 L880.4,1224.7 L880.9,1224.6 L881.3,1225.2 L881.8,1224.9 L882.3,1221.9 L882.7,1221.8 L883.2,1220.1 L883.6,1223.4 L884.1,1224.1 L884.6,1227.6 L885.0,1231.4 L885.5,1231.8 L885.9,1226.5 L886.4,1226.4 L886.9,1224.1 L887.3,1231.5 L887.8,1226.0 L888.3,1225.9 L888.7,1228.0 L889.2,1228.4 L889.6,1233.2 L890.1,1228.8 L890.6,1224.8 L891.0,1230.9 L891.5,1225.2 L891.9,1227.5 L892.4,1223.7 L892.9,1219.3 L893.3,1222.9 L893.8,1222.2 L894.2,1221.9 L894.7,1224.5 L895.2,1221.8 L895.6,1231.3 L896.1,1226.9 L896.5,1230.9 L897.0,1229.1 L897.5,1224.3 L897.9,1227.0 L898.4,1224.1 L898.8,1218.4 L899.3,1219.7 L899.8,1209.9 L900.2,1219.4 L900.7,1217.1 L901.1,1221.0 L901.6,1209.9 L902.1,1205.9 L902.5,1198.1 L903.0,1195.1 L903.4,1194.4 L903.9,1196.9 L904.4,1189.3 L904.8,1194.3 L905.3,1198.9 L905.7,1195.6 L906.2,1205.6 L906.7,1205.6 L907.1,1213.8 L907.6,1213.0 L908.0,1220.6 L908.5,1210.7 L909.0,1217.6 L909.4,1220.5 L909.9,1221.5 L910.4,1220.9 L910.8,1220.3 L911.3,1221.4 L911.7,1224.3 L912.2,1219.7 L912.7,1223.8 L913.1,1220.0 L913.6,1217.7 L914.0,1221.5 L914.5,1216.1 L915.0,1216.7 L915.4,1206.0 L915.9,1211.0 L916.3,1206.1 L916.8,1203.7 L917.3,1203.5 L917.7,1201.7 L918.2,1202.5 L918.6,1201.0 L919.1,1200.9 L919.6,1199.1 L920.0,1197.3 L920.5,1199.3 L920.9,1192.6 L921.4,1192.7 L921.9,1190.0 L922.3,1181.7 L922.8,1173.8 L923.2,1162.7 L923.7,1150.9 L924.2,1139.2 L924.6,1125.5 L925.1,1116.7 L925.5,1111.1 L926.0,1100.8 L926.5,1096.5 L926.9,1090.3 L927.4,1087.8 L927.8,1093.2 L928.3,1095.2 L928.8,1100.7 L929.2,1113.2 L929.7,1128.5 L930.2,1137.6 L930.6,1151.7 L931.1,1157.7 L931.5,1170.2 L932.0,1179.0 L932.5,1182.9 L932.9,1192.5 L933.4,1200.1 L933.8,1210.5 L934.3,1211.2 L934.8,1215.3 L935.2,1216.8 L935.7,1221.8 L936.1,1217.9 L936.6,1216.8 L937.1,1221.6 L937.5,1224.9 L938.0,1220.8 L938.4,1222.5 L938.9,1220.3 L939.4,1224.8 L939.8,1228.0 L940.3,1230.5 L940.7,1226.7 L941.2,1232.7 L941.7,1228.5 L942.1,1222.9 L942.6,1224.9 L943.0,1224.2 L943.5,1224.3 L944.0,1226.9 L944.4,1223.4 L944.9,1220.4 L945.3,1219.6 L945.8,1223.4 L946.3,1219.8 L946.7,1217.4 L947.2,1219.7 L947.6,1217.1 L948.1,1222.2 L948.6,1227.4 L949.0,1222.9 L949.5,1222.3 L949.9,1221.1 L950.4,1222.5 L950.9,1221.1 L951.3,1225.1 L951.8,1226.8 L952.3,1228.5 L952.7,1227.0 L953.2,1222.4 L953.6,1220.9 L954.1,1225.6 L954.6,1226.2 L955.0,1226.9 L955.5,1224.8 L955.9,1224.2 L956.4,1224.5 L956.9,1219.7 L957.3,1224.6 L957.8,1220.7 L958.2,1220.4 L958.7,1219.0 L959.2,1221.5 L959.6,1224.4 L960.1,1223.0 L960.5,1226.8 L961.0,1226.2 L961.5,1228.3 L961.9,1219.8 L962.4,1232.2 L962.8,1229.0 L963.3,1222.0 L963.8,1226.2 L964.2,1229.6 L964.7,1223.6 L965.1,1218.4 L965.6,1223.1 L966.1,1220.2 L966.5,1226.9 L967.0,1226.0 L967.4,1225.2 L967.9,1226.3 L968.4,1229.1 L968.8,1228.6 L969.3,1228.3 L969.7,1228.3 L970.2,1227.5 L970.7,1227.8 L971.1,1225.5 L971.6,1231.6 L972.0,1227.2 L972.5,1224.1 L973.0,1228.3 L973.4,1229.7 L973.9,1230.7 L974.4,1229.5 L974.8,1231.4 L975.3,1227.2 L975.7,1227.6 L976.2,1224.6 L976.7,1225.3 L977.1,1223.5 L977.6,1221.8 L978.0,1223.8 L978.5,1219.6 L979.0,1224.8 L979.4,1229.5 L979.9,1226.3 L980.3,1225.2 L980.8,1226.3 L981.3,1224.3 L981.7,1225.0 L982.2,1223.4 L982.6,1227.7 L983.1,1229.7 L983.6,1227.7 L984.0,1231.1 L984.5,1232.6 L984.9,1227.9 L985.4,1226.3 L985.9,1226.8 L986.3,1221.9 L986.8,1228.8 L987.2,1230.0 L987.7,1222.3 L988.2,1233.1 L988.6,1227.5 L989.1,1230.3 L989.5,1237.2 L990.0,1227.3 L990.5,1230.6 L990.9,1228.1 L991.4,1228.0 L991.8,1227.0 L992.3,1224.9 L992.8,1221.2 L993.2,1226.7 L993.7,1228.4 L994.1,1225.7 L994.6,1226.6 L995.1,1234.0 L995.5,1224.5 L996.0,1225.9 L996.5,1225.3 L996.9,1229.1 L997.4,1220.4 L997.8,1224.7 L998.3,1227.2 L998.8,1226.4 L999.2,1224.8 L999.7,1223.9 L1000.1,1220.9 L1000.6,1221.6 L1001.1,1223.6 L1001.5,1222.5 L1002.0,1220.0 L1002.4,1224.6 L1002.9,1223.7 L1003.4,1220.8 L1003.8,1224.6 L1004.3,1221.5 L1004.7,1229.2 L1005.2,1227.6 L1005.7,1229.1 L1006.1,1229.6 L1006.6,1225.2 L1007.0,1224.2 L1007.5,1226.7 L1008.0,1227.1 L1008.4,1221.5 L1008.9,1221.8 L1009.3,1231.8 L1009.8,1225.9 L1010.3,1230.6 L1010.7,1228.3 L1011.2,1225.2 L1011.6,1226.4 L1012.1,1221.7 L1012.6,1224.6 L1013.0,1224.1 L1013.5,1223.8 L1013.9,1219.0 L1014.4,1223.8 L1014.9,1223.0 L1015.3,1224.7 L1015.8,1223.0 L1016.3,1225.9 L1016.7,1225.5 L1017.2,1221.2 L1017.6,1224.1 L1018.1,1229.1 L1018.6,1228.4 L1019.0,1226.4 L1019.5,1224.2 L1019.9,1228.1 L1020.4,1221.8 L1020.9,1224.4 L1021.3,1225.7 L1021.8,1227.7 L1022.2,1221.6 L1022.7,1221.3 L1023.2,1226.3 L1023.6,1219.9 L1024.1,1221.0 L1024.5,1221.1 L1025.0,1226.0 L1025.5,1223.5 L1025.9,1231.5 L1026.4,1224.3 L1026.8,1226.7 L1027.3,1226.1 L1027.8,1224.9 L1028.2,1228.3 L1028.7,1226.8 L1029.1,1229.0 L1029.6,1228.3 L1030.1,1229.2 L1030.5,1225.0 L1031.0,1222.2 L1031.4,1227.8 L1031.9,1229.1 L1032.4,1225.0 L1032.8,1223.3 L1033.3,1223.7 L1033.7,1227.5 L1034.2,1223.9 L1034.7,1225.9 L1035.1,1224.3 L1035.6,1223.3 L1036.0,1224.6 L1036.5,1222.9 L1037.0,1226.3 L1037.4,1221.2 L1037.9,1225.3 L1038.4,1228.3 L1038.8,1221.6 L1039.3,1221.1 L1039.7,1222.5 L1040.2,1223.6 L1040.7,1223.3 L1041.1,1222.8 L1041.6,1226.5 L1042.0,1224.7 L1042.5,1228.9 L1043.0,1226.3 L1043.4,1230.9 L1043.9,1227.4 L1044.3,1226.7 L1044.8,1229.4 L1045.3,1226.5 L1045.7,1232.0 L1046.2,1226.3 L1046.6,1225.8 L1047.1,1222.8 L1047.6,1224.3 L1048.0,1221.4 L1048.5,1219.2 L1048.9,1224.3 L1049.4,1222.1 L1049.9,1219.6 L1050.3,1221.1 L1050.8,1220.8 L1051.2,1224.7 L1051.7,1223.6 L1052.2,1227.9 L1052.6,1223.1 L1053.1,1224.3 L1053.5,1223.8 L1054.0,1229.4 L1054.5,1220.7 L1054.9,1218.7 L1055.4,1218.5 L1055.8,1220.8 L1056.3,1218.4 L1056.8,1221.6 L1057.2,1222.9 L1057.7,1220.4 L1058.1,1221.3 L1058.6,1213.6 L1059.1,1224.3 L1059.5,1216.4 L1060.0,1219.4 L1060.5,1218.7 L1060.9,1215.4 L1061.4,1217.6 L1061.8,1213.9 L1062.3,1216.2 L1062.8,1214.9 L1063.2,1213.2 L1063.7,1209.4 L1064.1,1214.3 L1064.6,1213.3 L1065.1,1213.8 L1065.5,1212.9 L1066.0,1214.2 L1066.4,1211.2 L1066.9,1209.4 L1067.4,1207.4 L1067.8,1210.5 L1068.3,1213.4 L1068.7,1207.6 L1069.2,1215.8 L1069.7,1209.9 L1070.1,1215.8 L1070.6,1215.1 L1071.0,1220.6 L1071.5,1222.8 L1072.0,1220.9 L1072.4,1214.5 L1072.9,1217.9 L1073.3,1216.1 L1073.8,1219.4 L1074.3,1218.7 L1074.7,1221.4 L1075.2,1221.8 L1075.6,1222.1 L1076.1,1219.6 L1076.6,1222.0 L1077.0,1225.4 L1077.5,1223.9 L1077.9,1225.6 L1078.4,1221.5 L1078.9,1222.4 L1079.3,1223.1 L1079.8,1222.8 L1080.2,1224.3 L1080.7,1222.7 L1081.2,1228.9 L1081.6,1224.6 L1082.1,1226.3 L1082.6,1222.6 L1083.0,1226.1 L1083.5,1229.3 L1083.9,1226.5 L1084.4,1227.9 L1084.9,1229.6 L1085.3,1227.7 L1085.8,1222.7 L1086.2,1225.4 L1086.7,1221.7 L1087.2,1219.3 L1087.6,1220.3 L1088.1,1221.9 L1088.5,1221.0 L1089.0,1225.1 L1089.5,1228.2 L1089.9,1229.7 L1090.4,1224.4 L1090.8,1224.6 L1091.3,1229.7 L1091.8,1228.9 L1092.2,1235.1 L1092.7,1226.9 L1093.1,1229.3 L1093.6,1233.8 L1094.1,1226.8 L1094.5,1225.6 L1095.0,1223.9 L1095.4,1225.4 L1095.9,1223.8 L1096.4,1226.5 L1096.8,1220.2 L1097.3,1225.0 L1097.7,1221.0 L1098.2,1223.8 L1098.7,1227.1 L1099.1,1224.0 L1099.6,1229.8 L1100.0,1226.9 L1100.5,1227.0 L1101.0,1226.9 L1101.4,1225.3 L1101.9,1223.3 L1102.4,1226.1 L1102.8,1226.6 L1103.3,1226.2 L1103.7,1227.7 L1104.2,1229.3 L1104.7,1226.1 L1105.1,1231.2 L1105.6,1226.0 L1106.0,1226.3 L1106.5,1224.0 L1107.0,1222.9 L1107.4,1223.6 L1107.9,1224.5 L1108.3,1220.9 L1108.8,1225.7 L1109.3,1227.1 L1109.7,1224.2 L1110.2,1221.5 L1110.6,1218.7 L1111.1,1218.4 L1111.6,1223.4 L1112.0,1221.2 L1112.5,1219.7 L1112.9,1224.7 L1113.4,1218.8 L1113.9,1221.3 L1114.3,1222.7 L1114.8,1220.9 L1115.2,1220.6 L1115.7,1227.5 L1116.2,1221.5 L1116.6,1220.9 L1117.1,1223.8 L1117.5,1222.7 L1118.0,1225.9 L1118.5,1228.4 L1118.9,1227.5 L1119.4,1232.7 L1119.8,1225.4 L1120.3,1223.9 L1120.8,1223.2 L1121.2,1221.5 L1121.7,1223.6 L1122.1,1223.8 L1122.6,1226.8 L1123.1,1226.8 L1123.5,1224.4 L1124.0,1220.4 L1124.5,1223.7 L1124.9,1220.7 L1125.4,1222.7 L1125.8,1228.0 L1126.3,1227.0 L1126.8,1228.5 L1127.2,1229.8 L1127.7,1225.5 L1128.1,1224.4 L1128.6,1228.2 L1129.1,1222.5 L1129.5,1222.7 L1130.0,1226.6 L1130.4,1223.9 L1130.9,1227.1 L1131.4,1223.9 L1131.8,1222.1 L1132.3,1228.5 L1132.7,1220.0 L1133.2,1229.4 L1133.7,1225.3 L1134.1,1227.8 L1134.6,1224.8 L1135.0,1230.2 L1135.5,1229.7 L1136.0,1220.3 L1136.4,1224.2 L1136.9,1226.1 L1137.3,1229.7 L1137.8,1226.0 L1138.3,1230.7 L1138.7,1227.7 L1139.2,1224.1 L1139.6,1223.4 L1140.1,1226.8 L1140.6,1223.6 L1141.0,1222.9 L1141.5,1227.1 L1141.9,1223.0 L1142.4,1223.7 L1142.9,1220.3 L1143.3,1228.5 L1143.8,1224.5 L1144.2,1226.3 L1144.7,1220.0 L1145.2,1231.6 L1145.6,1220.5 L1146.1,1225.8 L1146.6,1224.3 L1147.0,1230.5 L1147.5,1230.6 L1147.9,1228.2 L1148.4,1227.7 L1148.9,1234.6 L1149.3,1229.3 L1149.8,1228.3 L1150.2,1227.1 L1150.7,1224.3 L1151.2,1224.8 L1151.6,1225.6 L1152.1,1227.3 L1152.5,1227.5 L1153.0,1222.0 L1153.5,1218.0 L1153.9,1222.5 L1154.4,1221.0 L1154.8,1228.1 L1155.3,1224.3 L1155.8,1229.3 L1156.2,1229.6 L1156.7,1228.1 L1157.1,1226.7 L1157.6,1226.6 L1158.1,1225.0 L1158.5,1224.4 L1159.0,1227.1 L1159.4,1226.3 L1159.9,1225.8 L1160.4,1221.3 L1160.8,1228.7 L1161.3,1225.1 L1161.7,1222.8 L1162.2,1223.9 L1162.7,1228.6 L1163.1,1229.6 L1163.6,1227.4 L1164.0,1224.4 L1164.5,1222.0 L1165.0,1224.1 L1165.4,1223.2 L1165.9,1225.2 L1166.3,1227.5 L1166.8,1223.0 L1167.3,1222.0 L1167.7,1226.7 L1168.2,1227.6 L1168.7,1222.7 L1169.1,1228.3 L1169.6,1228.4 L1170.0,1225.0 L1170.5,1221.1 L1171.0,1227.2 L1171.4,1226.0 L1171.9,1222.0 L1172.3,1229.7 L1172.8,1230.7 L1173.3,1220.1 L1173.7,1222.5 L1174.2,1225.6 L1174.6,1223.0 L1175.1,1222.7 L1175.6,1227.2 L1176.0,1220.5 L1176.5,1232.2 L1176.9,1222.8 L1177.4,1225.1 L1177.9,1224.3 L1178.3,1222.9 L1178.8,1224.5 L1179.2,1222.7 L1179.7,1223.5 L1180.2,1226.7 L1180.6,1222.3 L1181.1,1228.6 L1181.5,1228.3 L1182.0,1220.8 L1182.5,1228.0 L1182.9,1222.6 L1183.4,1223.2 L1183.8,1226.0 L1184.3,1221.7 L1184.8,1226.7 L1185.2,1226.9 L1185.7,1225.3 L1186.1,1225.2 L1186.6,1223.6 L1187.1,1220.6 L1187.5,1229.2 L1188.0,1228.4 L1188.5,1228.1 L1188.9,1227.2 L1189.4,1228.2 L1189.8,1222.7 L1190.3,1227.0 L1190.8,1228.1 L1191.2,1220.7 L1191.7,1221.6 L1192.1,1225.5 L1192.6,1227.9 L1193.1,1225.0 L1193.5,1223.4 L1194.0,1220.9 L1194.4,1220.5 L1194.9,1225.7 L1195.4,1224.8 L1195.8,1225.7 L1196.3,1225.0 L1196.7,1226.6 L1197.2,1226.5 L1197.7,1225.9 L1198.1,1224.9 L1198.6,1229.8 L1199.0,1225.5 L1199.5,1222.4 L1200.0,1223.9 L1200.4,1224.4 L1200.9,1225.6 L1201.3,1227.2 L1201.8,1226.0 L1202.3,1228.3 L1202.7,1230.6 L1203.2,1222.8 L1203.6,1224.5 L1204.1,1230.0 L1204.6,1222.9 L1205.0,1223.1 L1205.5,1228.9 L1205.9,1223.8 L1206.4,1224.7 L1206.9,1223.2 L1207.3,1225.5 L1207.8,1219.3 L1208.2,1226.7 L1208.7,1227.0 L1209.2,1225.1 L1209.6,1223.6 L1210.1,1224.6 L1210.6,1218.5 L1211.0,1225.3 L1211.5,1216.4 L1211.9,1227.3 L1212.4,1222.9 L1212.9,1220.0 L1213.3,1218.5 L1213.8,1225.4 L1214.2,1228.6 L1214.7,1226.4 L1215.2,1226.0 L1215.6,1223.1 L1216.1,1228.1 L1216.5,1223.4 L1217.0,1229.0 L1217.5,1224.6 L1217.9,1220.0 L1218.4,1224.8 L1218.8,1223.4 L1219.3,1225.8 L1219.8,1227.2 L1220.2,1225.2 L1220.7,1225.4 L1221.1,1235.1 L1221.6,1229.0 L1222.1,1220.3 L1222.5,1223.9 L1223.0,1225.1 L1223.4,1227.3 L1223.9,1227.9 L1224.4,1227.4 L1224.8,1235.7 L1225.3,1221.5 L1225.7,1224.5 L1226.2,1227.5 L1226.7,1221.6 L1227.1,1225.6 L1227.6,1221.4 L1228.0,1227.1 L1228.5,1223.3 L1229.0,1230.1 L1229.4,1222.7 L1229.9,1228.4 L1230.3,1223.3 L1230.8,1221.4 L1231.3,1226.6 L1231.7,1222.0 L1232.2,1224.6 L1232.7,1224.2 L1233.1,1222.7 L1233.6,1225.9 L1234.0,1222.3 L1234.5,1227.8 L1235.0,1227.7 L1235.4,1221.9 L1235.9,1227.1 L1236.3,1222.8 L1236.8,1225.8 L1237.3,1223.6 L1237.7,1222.4 L1238.2,1225.9 L1238.6,1226.4 L1239.1,1229.0 L1239.6,1223.0 L1240.0,1227.7 L1240.5,1227.8 L1240.9,1225.5 L1241.4,1226.4 L1241.9,1227.7 L1242.3,1224.6 L1242.8,1225.1 L1243.2,1226.8 L1243.7,1225.4 L1244.2,1219.6 L1244.6,1222.0 L1245.1,1223.1 L1245.5,1221.8 L1246.0,1220.6 L1246.5,1217.6 L1246.9,1226.9 L1247.4,1222.7 L1247.8,1225.0 L1248.3,1222.0 L1248.8,1223.8 L1249.2,1224.1 L1249.7,1224.3 L1250.1,1224.0 L1250.6,1222.0 L1251.1,1217.4 L1251.5,1225.4 L1252.0,1225.1 L1252.5,1224.5 L1252.9,1219.4 L1253.4,1219.8 L1253.8,1219.8 L1254.3,1221.6 L1254.8,1222.2 L1255.2,1224.6 L1255.7,1220.7 L1256.1,1220.2 L1256.6,1222.9 L1257.1,1224.1 L1257.5,1226.2 L1258.0,1222.1 L1258.4,1223.8 L1258.9,1221.2 L1259.4,1225.8 L1259.8,1226.4 L1260.3,1222.5 L1260.7,1226.3 L1261.2,1231.1 L1261.7,1228.1 L1262.1,1227.7 L1262.6,1224.4 L1263.0,1228.4 L1263.5,1221.3 L1264.0,1221.7 L1264.4,1224.0 L1264.9,1223.5 L1265.3,1222.7 L1265.8,1223.0 L1266.3,1218.4 L1266.7,1224.5 L1267.2,1215.9 L1267.6,1226.3 L1268.1,1223.5 L1268.6,1227.7 L1269.0,1227.5 L1269.5,1225.8 L1269.9,1228.9 L1270.4,1222.4 L1270.9,1222.5 L1271.3,1220.9 L1271.8,1220.3 L1272.2,1225.0 L1272.7,1223.7 L1273.2,1224.3 L1273.6,1221.4 L1274.1,1225.8 L1274.6,1228.5 L1275.0,1225.5 L1275.5,1227.6 L1275.9,1223.9 L1276.4,1222.2 L1276.9,1223.0 L1277.3,1227.7 L1277.8,1223.1 L1278.2,1227.6 L1278.7,1225.4 L1279.2,1221.1 L1279.6,1223.0 L1280.1,1218.7 L1280.5,1222.0 L1281.0,1224.4 L1281.5,1222.2 L1281.9,1225.3 L1282.4,1221.8 L1282.8,1231.3 L1283.3,1225.1 L1283.8,1227.1 L1284.2,1224.7 L1284.7,1226.1 L1285.1,1219.6 L1285.6,1223.7 L1286.1,1225.6 L1286.5,1222.3 L1287.0,1230.6 L1287.4,1219.1 L1287.9,1228.2 L1288.4,1222.1 L1288.8,1217.0 L1289.3,1225.2 L1289.7,1223.6 L1290.2,1226.1 L1290.7,1224.4 L1291.1,1218.7 L1291.6,1219.8 L1292.0,1222.6 L1292.5,1221.5 L1293.0,1224.9 L1293.4,1227.2 L1293.9,1226.7 L1294.3,1229.6 L1294.8,1232.9 L1295.3,1226.5 L1295.7,1223.5 L1296.2,1220.3 L1296.7,1221.3 L1297.1,1223.9 L1297.6,1225.6 L1298.0,1223.7 L1298.5,1222.2 L1299.0,1222.6 L1299.4,1223.1 L1299.9,1220.5 L1300.3,1228.4 L1300.8,1220.9 L1301.3,1218.7 L1301.7,1227.8 L1302.2,1223.3 L1302.6,1226.3 L1303.1,1227.1 L1303.6,1222.7 L1304.0,1222.4 L1304.5,1224.4 L1304.9,1219.1 L1305.4,1222.9 L1305.9,1229.8 L1306.3,1220.2 L1306.8,1223.2 L1307.2,1218.1 L1307.7,1224.5 L1308.2,1224.4 L1308.6,1223.8 L1309.1,1222.4 L1309.5,1221.8 L1310.0,1225.7 L1310.5,1213.5 L1310.9,1225.2 L1311.4,1223.7 L1311.8,1217.5 L1312.3,1218.6 L1312.8,1220.1 L1313.2,1223.3 L1313.7,1223.7 L1314.1,1217.5 L1314.6,1227.0 L1315.1,1224.7 L1315.5,1222.4 L1316.0,1221.5 L1316.4,1219.0 L1316.9,1221.9 L1317.4,1222.0 L1317.8,1222.2 L1318.3,1224.6 L1318.8,1222.9 L1319.2,1226.5 L1319.7,1226.2 L1320.1,1224.5 L1320.6,1226.7 L1321.1,1224.6 L1321.5,1226.1 L1322.0,1224.7 L1322.4,1222.0 L1322.9,1229.2 L1323.4,1227.9 L1323.8,1226.4 L1324.3,1220.8 L1324.7,1226.5 L1325.2,1219.3 L1325.7,1220.4 L1326.1,1222.1 L1326.6,1221.1 L1327.0,1221.3 L1327.5,1225.1 L1328.0,1220.6 L1328.4,1223.8 L1328.9,1225.2 L1329.3,1226.6 L1329.8,1222.7 L1330.3,1221.9 L1330.7,1220.8 L1331.2,1216.9 L1331.6,1221.5 L1332.1,1225.0 L1332.6,1224.9 L1333.0,1226.1 L1333.5,1225.1 L1333.9,1225.9 L1334.4,1219.9 L1334.9,1229.2 L1335.3,1219.6 L1335.8,1225.8 L1336.2,1228.2 L1336.7,1226.9 L1337.2,1224.7 L1337.6,1223.9 L1338.1,1224.6 L1338.6,1219.7 L1339.0,1225.7 L1339.5,1224.2 L1339.9,1219.1 L1340.4,1224.3 L1340.9,1222.7 L1341.3,1219.3 L1341.8,1219.8 L1342.2,1220.9 L1342.7,1221.6 L1343.2,1224.0 L1343.6,1223.6 L1344.1,1224.2 L1344.5,1225.5 L1345.0,1223.6 L1345.5,1226.5 L1345.9,1224.3 L1346.4,1226.3 L1346.8,1223.3 L1347.3,1231.7 L1347.8,1219.2 L1348.2,1226.7 L1348.7,1225.0 L1349.1,1225.4 L1349.6,1218.6 L1350.1,1227.5 L1350.5,1224.0 L1351.0,1223.5 L1351.4,1216.1 L1351.9,1219.1 L1352.4,1226.2 L1352.8,1225.9 L1353.3,1226.2 L1353.7,1229.7 L1354.2,1224.2 L1354.7,1227.7 L1355.1,1233.3 L1355.6,1227.7 L1356.0,1226.7 L1356.5,1226.2 L1357.0,1222.8 L1357.4,1220.9 L1357.9,1223.9 L1358.3,1225.9 L1358.8,1224.3 L1359.3,1230.9 L1359.7,1223.6 L1360.2,1229.9 L1360.7,1225.3 L1361.1,1225.5 L1361.6,1222.6 L1362.0,1224.5 L1362.5,1220.7 L1363.0,1225.8 L1363.4,1217.7 L1363.9,1220.9 L1364.3,1221.0 L1364.8,1226.2 L1365.3,1224.7 L1365.7,1226.5 L1366.2,1224.8 L1366.6,1226.9 L1367.1,1223.5 L1367.6,1230.2 L1368.0,1219.8 L1368.5,1226.0 L1368.9,1219.8 L1369.4,1217.7 L1369.9,1218.7 L1370.3,1223.3 L1370.8,1219.3 L1371.2,1218.9 L1371.7,1220.1 L1372.2,1222.6 L1372.6,1225.0 L1373.1,1227.1 L1373.5,1227.2 L1374.0,1225.8 L1374.5,1225.8 L1374.9,1225.6 L1375.4,1225.0 L1375.8,1223.3 L1376.3,1224.7 L1376.8,1220.2 L1377.2,1222.1 L1377.7,1218.4 L1378.1,1223.1 L1378.6,1222.8 L1379.1,1220.9 L1379.5,1218.7 L1380.0,1217.4 L1380.4,1213.6 L1380.9,1220.8 L1381.4,1213.2 L1381.8,1217.2 L1382.3,1213.9 L1382.8,1210.2 L1383.2,1208.0 L1383.7,1203.1 L1384.1,1205.9 L1384.6,1200.3 L1385.1,1200.3 L1385.5,1200.8 L1386.0,1195.9 L1386.4,1198.0 L1386.9,1193.6 L1387.4,1188.4 L1387.8,1190.4 L1388.3,1191.6 L1388.7,1192.8 L1389.2,1191.6 L1389.7,1192.7 L1390.1,1186.6 L1390.6,1190.2 L1391.0,1193.5 L1391.5,1194.1 L1392.0,1191.4 L1392.4,1199.0 L1392.9,1200.5 L1393.3,1196.0 L1393.8,1198.4 L1394.3,1202.9 L1394.7,1197.3 L1395.2,1197.1 L1395.6,1195.0 L1396.1,1192.0 L1396.6,1187.9 L1397.0,1180.6 L1397.5,1172.1 L1397.9,1170.3 L1398.4,1160.4 L1398.9,1161.1 L1399.3,1154.7 L1399.8,1150.2 L1400.2,1153.6 L1400.7,1157.2 L1401.2,1156.8 L1401.6,1165.6 L1402.1,1173.7 L1402.5,1180.7 L1403.0,1193.3 L1403.5,1196.9 L1403.9,1196.2 L1404.4,1202.9 L1404.9,1203.5 L1405.3,1212.9 L1405.8,1213.4 L1406.2,1211.7 L1406.7,1213.1 L1407.2,1222.6 L1407.6,1218.1 L1408.1,1219.9 L1408.5,1221.6 L1409.0,1219.4 L1409.5,1223.5 L1409.9,1220.5 L1410.4,1220.5 L1410.8,1224.4 L1411.3,1223.3 L1411.8,1230.2 L1412.2,1222.2 L1412.7,1223.2 L1413.1,1227.5 L1413.6,1227.2 L1414.1,1222.7 L1414.5,1216.6 L1415.0,1222.3 L1415.4,1226.3 L1415.9,1224.3 L1416.4,1229.4 L1416.8,1225.5 L1417.3,1226.1 L1417.7,1223.5 L1418.2,1220.6 L1418.7,1224.7 L1419.1,1218.5 L1419.6,1224.3 L1420.0,1223.4 L1420.5,1224.6 L1421.0,1226.9 L1421.4,1226.1 L1421.9,1225.9 L1422.3,1220.9 L1422.8,1225.9 L1423.3,1229.6 L1423.7,1224.5 L1424.2,1223.9 L1424.7,1227.4 L1425.1,1223.4 L1425.6,1224.6 L1426.0,1229.6 L1426.5,1224.2 L1427.0,1231.1 L1427.4,1230.0 L1427.9,1225.9 L1428.3,1231.7 L1428.8,1234.0 L1429.3,1227.8 L1429.7,1224.8 L1430.2,1224.8 L1430.6,1226.1 L1431.1,1229.1 L1431.6,1223.1 L1432.0,1223.7 L1432.5,1225.4 L1432.9,1224.1 L1433.4,1230.0 L1433.9,1223.0 L1434.3,1221.4 L1434.8,1223.3 L1435.2,1223.5 L1435.7,1225.9 L1436.2,1226.4 L1436.6,1233.0 L1437.1,1228.1 L1437.5,1225.2 L1438.0,1227.6 L1438.5,1228.6 L1438.9,1225.6 L1439.4,1227.7 L1439.8,1222.6 L1440.3,1227.6 L1440.8,1227.1 L1441.2,1222.9 L1441.7,1229.2 L1442.1,1225.2 L1442.6,1221.6 L1443.1,1228.4 L1443.5,1227.1 L1444.0,1223.1 L1444.4,1223.1 L1444.9,1227.0 L1445.4,1227.4 L1445.8,1228.7 L1446.3,1230.5 L1446.8,1227.2 L1447.2,1230.3 L1447.7,1231.0 L1448.1,1230.0 L1448.6,1224.8 L1449.1,1234.5 L1449.5,1227.8 L1450.0,1225.7 L1450.4,1227.6 L1450.9,1227.7 L1451.4,1222.9 L1451.8,1223.0 L1452.3,1217.6 L1452.7,1224.1 L1453.2,1220.7 L1453.7,1224.5 L1454.1,1218.6 L1454.6,1219.9 L1455.0,1221.9 L1455.5,1221.4 L1456.0,1222.6 L1456.4,1223.5 L1456.9,1225.0 L1457.3,1222.6 L1457.8,1223.6 L1458.3,1226.0 L1458.7,1225.0 L1459.2,1224.0 L1459.6,1219.7 L1460.1,1223.2 L1460.6,1223.7 L1461.0,1227.1 L1461.5,1221.8 L1461.9,1223.2 L1462.4,1222.7 L1462.9,1221.7 L1463.3,1219.9 L1463.8,1225.5 L1464.2,1223.8 L1464.7,1223.1 L1465.2,1221.4 L1465.6,1223.4 L1466.1,1223.2 L1466.5,1225.7 L1467.0,1225.7 L1467.5,1229.5 L1467.9,1229.0 L1468.4,1227.9 L1468.9,1227.6 L1469.3,1224.6 L1469.8,1225.7 L1470.2,1224.9 L1470.7,1224.4 L1471.2,1219.7 L1471.6,1224.3 L1472.1,1221.2 L1472.5,1224.3 L1473.0,1222.0 L1473.5,1222.4 L1473.9,1224.5 L1474.4,1227.5 L1474.8,1224.2 L1475.3,1224.5 L1475.8,1225.5 L1476.2,1225.1 L1476.7,1225.5 L1477.1,1218.6 L1477.6,1226.4 L1478.1,1229.7 L1478.5,1230.1 L1479.0,1223.8 L1479.4,1230.7 L1479.9,1224.6 L1480.4,1227.5 L1480.8,1225.2 L1481.3,1225.1 L1481.7,1221.8 L1482.2,1224.3 L1482.7,1222.2 L1483.1,1223.6 L1483.6,1226.5 L1484.0,1217.0 L1484.5,1224.2 L1485.0,1219.2 L1485.4,1218.4 L1485.9,1220.4 L1486.3,1224.3 L1486.8,1217.8 L1487.3,1225.8 L1487.7,1220.1 L1488.2,1219.6 L1488.6,1226.8 L1489.1,1221.7 L1489.6,1226.2 L1490.0,1222.6 L1490.5,1229.3 L1491.0,1218.8 L1491.4,1221.3 L1491.9,1222.4 L1492.3,1222.8 L1492.8,1217.1 L1493.3,1219.6 L1493.7,1220.2 L1494.2,1223.4 L1494.6,1224.4 L1495.1,1224.8 L1495.6,1227.0 L1496.0,1223.5 L1496.5,1218.2 L1496.9,1220.6 L1497.4,1219.4 L1497.9,1220.4 L1498.3,1215.6 L1498.8,1224.0 L1499.2,1228.5 L1499.7,1232.4 L1500.2,1226.1 L1500.6,1224.4 L1501.1,1222.4 L1501.5,1228.8 L1502.0,1225.1 L1502.5,1218.2 L1502.9,1226.0 L1503.4,1223.7 L1503.8,1221.8 L1504.3,1223.9 L1504.8,1221.4 L1505.2,1226.8 L1505.7,1223.4 L1506.1,1223.1 L1506.6,1218.7 L1507.1,1220.2 L1507.5,1220.1 L1508.0,1224.8 L1508.4,1218.2 L1508.9,1222.1 L1509.4,1217.9 L1509.8,1226.1 L1510.3,1225.5 L1510.8,1225.3 L1511.2,1220.8 L1511.7,1228.7 L1512.1,1226.3 L1512.6,1227.3 L1513.1,1223.3 L1513.5,1226.1 L1514.0,1221.3 L1514.4,1229.1 L1514.9,1221.1 L1515.4,1227.5 L1515.8,1230.9 L1516.3,1224.6 L1516.7,1225.8 L1517.2,1227.1 L1517.7,1220.0 L1518.1,1224.5 L1518.6,1226.2 L1519.0,1222.0 L1519.5,1220.7 L1520.0,1220.8 L1520.4,1226.8 L1520.9,1218.2 L1521.3,1222.0 L1521.8,1221.0 L1522.3,1226.2 L1522.7,1226.1 L1523.2,1226.0 L1523.6,1224.7 L1524.1,1218.6 L1524.6,1223.8 L1525.0,1223.5 L1525.5,1219.6 L1525.9,1218.7 L1526.4,1220.5 L1526.9,1224.4 L1527.3,1228.2 L1527.8,1230.5 L1528.2,1225.5 L1528.7,1226.6 L1529.2,1222.2 L1529.6,1218.7 L1530.1,1225.2 L1530.5,1224.8 L1531.0,1224.5 L1531.5,1230.3 L1531.9,1225.0 L1532.4,1222.4 L1532.9,1217.1 L1533.3,1228.7 L1533.8,1222.4 L1534.2,1220.4 L1534.7,1228.1 L1535.2,1225.0 L1535.6,1219.8 L1536.1,1225.1 L1536.5,1224.1 L1537.0,1222.8 L1537.5,1220.9 L1537.9,1224.2 L1538.4,1227.5 L1538.8,1224.7 L1539.3,1229.6 L1539.8,1230.6 L1540.2,1227.4 L1540.7,1226.7 L1541.1,1225.3 L1541.6,1224.3 L1542.1,1225.4 L1542.5,1228.5 L1543.0,1227.3 L1543.4,1222.5 L1543.9,1218.9 L1544.4,1224.2 L1544.8,1224.2 L1545.3,1222.0 L1545.7,1228.5 L1546.2,1223.4 L1546.7,1226.8 L1547.1,1226.3 L1547.6,1222.6 L1548.0,1226.4 L1548.5,1222.5 L1549.0,1229.1 L1549.4,1228.6 L1549.9,1227.2 L1550.3,1222.9 L1550.8,1226.9 L1551.3,1223.1 L1551.7,1223.0 L1552.2,1221.3 L1552.6,1226.4 L1553.1,1224.1 L1553.6,1223.0 L1554.0,1220.4 L1554.5,1226.7 L1555.0,1226.2 L1555.4,1227.6 L1555.9,1237.5 L1556.3,1227.3 L1556.8,1227.1 L1557.3,1229.0 L1557.7,1227.0 L1558.2,1224.2 L1558.6,1222.8 L1559.1,1222.8 L1559.6,1223.5 L1560.0,1221.6 L1560.5,1219.0 L1560.9,1222.1 L1561.4,1218.5 L1561.9,1218.5 L1562.3,1221.3 L1562.8,1227.2 L1563.2,1227.9 L1563.7,1235.8 L1564.2,1229.3 L1564.6,1229.4 L1565.1,1230.0 L1565.5,1232.9 L1566.0,1222.6 L1566.5,1221.1 L1566.9,1224.3 L1567.4,1221.1 L1567.8,1224.8 L1568.3,1229.9 L1568.8,1224.7 L1569.2,1225.6 L1569.7,1224.7 L1570.1,1224.2 L1570.6,1227.3 L1571.1,1229.6 L1571.5,1223.0 L1572.0,1226.4 L1572.4,1225.9 L1572.9,1230.0 L1573.4,1233.4 L1573.8,1229.2 L1574.3,1220.5 L1574.8,1222.3 L1575.2,1229.8 L1575.7,1226.5 L1576.1,1228.8 L1576.6,1226.3 L1577.1,1222.3 L1577.5,1229.9 L1578.0,1227.3 L1578.4,1229.0 L1578.9,1229.6 L1579.4,1230.6 L1579.8,1228.8 L1580.3,1224.6 L1580.7,1224.4 L1581.2,1223.3 L1581.7,1227.5 L1582.1,1227.2 L1582.6,1224.5 L1583.0,1224.6 L1583.5,1225.8 L1584.0,1224.0 L1584.4,1217.5 L1584.9,1222.7 L1585.3,1220.9 L1585.8,1219.8 L1586.3,1222.5 L1586.7,1216.8 L1587.2,1221.0 L1587.6,1219.8 L1588.1,1223.7 L1588.6,1220.8 L1589.0,1223.0 L1589.5,1221.0 L1589.9,1224.6 L1590.4,1225.0 L1590.9,1224.2 L1591.3,1222.5 L1591.8,1229.2 L1592.2,1225.8 L1592.7,1226.3 L1593.2,1222.8 L1593.6,1232.1 L1594.1,1229.5 L1594.5,1222.6 L1595.0,1223.4 L1595.5,1222.5 L1595.9,1223.6 L1596.4,1222.4 L1596.9,1222.1 L1597.3,1221.2 L1597.8,1228.0 L1598.2,1227.3 L1598.7,1222.2 L1599.2,1222.2 L1599.6,1227.9 L1600.1,1220.3 L1600.5,1223.7 L1601.0,1222.5 L1601.5,1225.5 L1601.9,1227.2 L1602.4,1224.6 L1602.8,1224.7 L1603.3,1227.3 L1603.8,1223.5 L1604.2,1223.1 L1604.7,1227.3 L1605.1,1224.6 L1605.6,1222.5 L1606.1,1224.3 L1606.5,1220.1 L1607.0,1219.0 L1607.4,1226.2 L1607.9,1223.7 L1608.4,1224.5 L1608.8,1224.2 L1609.3,1231.4 L1609.7,1229.6 L1610.2,1225.1 L1610.7,1222.3 L1611.1,1224.2 L1611.6,1227.3 L1612.0,1223.4 L1612.5,1226.4 L1613.0,1227.9 L1613.4,1222.6 L1613.9,1219.7 L1614.3,1219.3 L1614.8,1221.7 L1615.3,1225.1 L1615.7,1227.0 L1616.2,1222.1 L1616.6,1226.9 L1617.1,1223.6 L1617.6,1223.5 L1618.0,1226.7 L1618.5,1225.9 L1619.0,1226.0 L1619.4,1223.6 L1619.9,1226.7 L1620.3,1224.3 L1620.8,1222.7 L1621.3,1226.3 L1621.7,1224.1 L1622.2,1223.9 L1622.6,1221.6 L1623.1,1225.0 L1623.6,1222.2 L1624.0,1222.0 L1624.5,1220.3 L1624.9,1225.6 L1625.4,1222.4 L1625.9,1225.5 L1626.3,1224.2 L1626.8,1227.2 L1627.2,1226.0 L1627.7,1222.4 L1628.2,1225.1 L1628.6,1219.2 L1629.1,1223.9 L1629.5,1217.5 L1630.0,1226.4 L1630.5,1222.5 L1630.9,1221.9 L1631.4,1222.2 L1631.8,1221.2 L1632.3,1228.0 L1632.8,1222.0 L1633.2,1219.2 L1633.7,1222.2 L1634.1,1225.6 L1634.6,1223.6 L1635.1,1223.3 L1635.5,1221.6 L1636.0,1226.3 L1636.4,1221.2 L1636.9,1225.8 L1637.4,1220.5 L1637.8,1222.1 L1638.3,1216.1 L1638.7,1220.4 L1639.2,1218.0 L1639.7,1220.7 L1640.1,1223.0 L1640.6,1214.5 L1641.1,1210.7 L1641.5,1209.0 L1642.0,1203.2 L1642.4,1204.7 L1642.9,1197.6 L1643.4,1197.6 L1643.8,1193.1 L1644.3,1199.9 L1644.7,1203.8 L1645.2,1208.4 L1645.7,1218.1 L1646.1,1219.4 L1646.6,1216.7 L1647.0,1222.0 L1647.5,1231.1 L1648.0,1230.2 L1648.4,1234.8 L1648.9,1234.2 L1649.3,1235.5 L1649.8,1235.0 L1650.3,1236.8 L1650.7,1231.9 L1651.2,1231.5 L1651.6,1228.5 L1652.1,1224.2 L1652.6,1224.7 L1653.0,1223.6 L1653.5,1222.3 L1653.9,1227.3 L1654.4,1225.3 L1654.9,1223.1 L1655.3,1224.4 L1655.8,1235.4 L1656.2,1233.0 L1656.7,1228.8 L1657.2,1220.1 L1657.6,1228.4 L1658.1,1224.8 L1658.5,1222.0 L1659.0,1219.1 L1659.5,1225.4 L1659.9,1224.2 L1660.4,1225.3 L1660.9,1227.3 L1661.3,1227.8 L1661.8,1224.9 L1662.2,1222.3 L1662.7,1223.6 L1663.2,1224.6 L1663.6,1226.1 L1664.1,1228.7 L1664.5,1230.6 L1665.0,1230.3 L1665.5,1223.0 L1665.9,1221.6 L1666.4,1222.2 L1666.8,1222.1 L1667.3,1223.0 L1667.8,1222.6 L1668.2,1226.1 L1668.7,1228.4 L1669.1,1230.3 L1669.6,1226.2 L1670.1,1228.9 L1670.5,1230.9 L1671.0,1226.2 L1671.4,1227.0 L1671.9,1222.3 L1672.4,1220.2 L1672.8,1222.3 L1673.3,1221.3 L1673.7,1217.9 L1674.2,1226.5 L1674.7,1226.0 L1675.1,1222.5 L1675.6,1224.1 L1676.0,1223.3 L1676.5,1221.7 L1677.0,1225.8 L1677.4,1231.2 L1677.9,1218.4 L1678.3,1228.9 L1678.8,1229.3 L1679.3,1222.8 L1679.7,1230.8 L1680.2,1229.6 L1680.6,1226.3 L1681.1,1228.8 L1681.6,1226.0 L1682.0,1223.1 L1682.5,1225.9 L1683.0,1227.2 L1683.4,1224.7 L1683.9,1225.6 L1684.3,1218.8 L1684.8,1230.3 L1685.3,1224.6 L1685.7,1229.1 L1686.2,1226.7 L1686.6,1232.6 L1687.1,1228.9 L1687.6,1228.2 L1688.0,1228.4 L1688.5,1224.6 L1688.9,1218.4 L1689.4,1227.8 L1689.9,1220.0 L1690.3,1225.4 L1690.8,1226.0 L1691.2,1230.9 L1691.7,1227.0 L1692.2,1223.6 L1692.6,1229.3 L1693.1,1227.3 L1693.5,1227.2 L1694.0,1228.0 L1694.5,1229.5 L1694.9,1223.4 L1695.4,1224.7 L1695.8,1229.2 L1696.3,1224.5 L1696.8,1230.8 L1697.2,1228.3 L1697.7,1233.0 L1698.1,1233.6 L1698.6,1228.8 L1699.1,1221.2 L1699.5,1224.7 L1700.0,1221.5 L1700.4,1219.8 L1700.9,1224.3 L1701.4,1228.5 L1701.8,1226.8 L1702.3,1229.1 L1702.7,1226.4 L1703.2,1229.3 L1703.7,1223.5 L1704.1,1224.0 L1704.6,1226.1 L1705.1,1226.4 L1705.5,1225.6 L1706.0,1227.4 L1706.4,1227.1 L1706.9,1225.0 L1707.4,1229.2 L1707.8,1227.8 L1708.3,1226.5 L1708.7,1231.4 L1709.2,1220.9 L1709.7,1225.5 L1710.1,1220.8 L1710.6,1231.2 L1711.0,1231.8 L1711.5,1226.8 L1712.0,1225.4 L1712.4,1222.5 L1712.9,1222.8 L1713.3,1221.7 L1713.8,1226.1 L1714.3,1220.0 L1714.7,1225.2 L1715.2,1232.6 L1715.6,1229.7 L1716.1,1229.1 L1716.6,1226.3 L1717.0,1227.4 L1717.5,1224.5 L1717.9,1221.7 L1718.4,1229.5 L1718.9,1226.6 L1719.3,1219.3 L1719.8,1218.6 L1720.2,1217.5 L1720.7,1221.8 L1721.2,1219.1 L1721.6,1221.9 L1722.1,1228.1 L1722.5,1225.3 L1723.0,1221.2 L1723.5,1222.6 L1723.9,1224.9 L1724.4,1224.6 L1724.8,1220.0 L1725.3,1220.3 L1725.8,1222.8 L1726.2,1217.6 L1726.7,1224.1 L1727.2,1224.6 L1727.6,1223.4 L1728.1,1223.9 L1728.5,1224.6 L1729.0,1231.2 L1729.5,1220.3 L1729.9,1226.8 L1730.4,1228.3 L1730.8,1231.1 L1731.3,1229.3 L1731.8,1226.7 L1732.2,1229.2 L1732.7,1224.8 L1733.1,1225.4 L1733.6,1228.3 L1734.1,1229.8 L1734.5,1225.7 L1735.0,1221.2 L1735.4,1226.8 L1735.9,1224.2 L1736.4,1227.2 L1736.8,1229.2 L1737.3,1224.0 L1737.7,1228.7 L1738.2,1222.2 L1738.7,1230.5 L1739.1,1233.1 L1739.6,1227.8 L1740.0,1226.1 L1740.5,1226.0 L1741.0,1228.2 L1741.4,1232.1 L1741.9,1225.4 L1742.3,1231.1 L1742.8,1221.3 L1743.3,1228.7 L1743.7,1227.1 L1744.2,1227.1 L1744.6,1222.7 L1745.1,1221.8 L1745.6,1226.8 L1746.0,1227.3 L1746.5,1231.7 L1747.0,1225.9 L1747.4,1234.6 L1747.9,1223.8 L1748.3,1224.5 L1748.8,1226.8 L1749.3,1220.9 L1749.7,1220.3 L1750.2,1216.5 L1750.6,1216.9 L1751.1,1221.1 L1751.6,1220.7 L1752.0,1226.1 L1752.5,1220.8 L1752.9,1227.4 L1753.4,1226.5 L1753.9,1229.7 L1754.3,1227.7 L1754.8,1224.7 L1755.2,1228.2 L1755.7,1225.0 L1756.2,1227.7 L1756.6,1221.9 L1757.1,1219.9 L1757.5,1222.0 L1758.0,1222.6 L1758.5,1225.5 L1758.9,1221.1 L1759.4,1219.6 L1759.8,1223.4 L1760.3,1222.9 L1760.8,1224.5 L1761.2,1227.5 L1761.7,1225.3 L1762.1,1230.3 L1762.6,1223.1 L1763.1,1221.5 L1763.5,1223.9 L1764.0,1225.4 L1764.4,1226.5 L1764.9,1225.9 L1765.4,1229.9 L1765.8,1226.1 L1766.3,1227.0 L1766.7,1225.3 L1767.2,1221.3 L1767.7,1224.3 L1768.1,1219.2 L1768.6,1220.6 L1769.1,1224.8 L1769.5,1221.2 L1770.0,1223.3 L1770.4,1222.0 L1770.9,1221.9 L1771.4,1222.1 L1771.8,1223.3 L1772.3,1221.1 L1772.7,1223.9 L1773.2,1225.6 L1773.7,1224.0 L1774.1,1228.5 L1774.6,1222.5 L1775.0,1221.5 L1775.5,1223.7 L1776.0,1219.0 L1776.4,1220.5 L1776.9,1222.7 L1777.3,1222.3 L1777.8,1221.9 L1778.3,1225.6 L1778.7,1222.3 L1779.2,1220.4 L1779.6,1219.2 L1780.1,1220.0 L1780.6,1213.6 L1781.0,1221.7 L1781.5,1216.0 L1781.9,1214.6 L1782.4,1210.5 L1782.9,1219.7 L1783.3,1218.9 L1783.8,1218.7 L1784.2,1215.5 L1784.7,1216.0 L1785.2,1216.0 L1785.6,1209.9 L1786.1,1210.9 L1786.5,1212.7 L1787.0,1214.7 L1787.5,1213.6 L1787.9,1213.2 L1788.4,1207.0 L1788.8,1216.5 L1789.3,1215.7 L1789.8,1216.6 L1790.2,1216.5 L1790.7,1214.9 L1791.2,1221.6 L1791.6,1221.6 L1792.1,1216.3 L1792.5,1219.4 L1793.0,1216.4 L1793.5,1222.8 L1793.9,1224.8 L1794.4,1221.9 L1794.8,1221.8 L1795.3,1217.7 L1795.8,1221.7 L1796.2,1219.3 L1796.7,1218.1 L1797.1,1220.9 L1797.6,1223.2 L1798.1,1224.1 L1798.5,1223.5 L1799.0,1223.1 L1799.4,1228.7 L1799.9,1230.5 L1800.4,1223.0 L1800.8,1231.9 L1801.3,1227.9 L1801.7,1228.4 L1802.2,1221.2 L1802.7,1223.3 L1803.1,1219.9 L1803.6,1219.9 L1804.0,1225.4 L1804.5,1222.5 L1805.0,1226.7 L1805.4,1222.9 L1805.9,1219.0 L1806.3,1220.4 L1806.8,1221.6 L1807.3,1223.7 L1807.7,1225.8 L1808.2,1223.3 L1808.6,1225.0 L1809.1,1225.5 L1809.6,1222.4 L1810.0,1226.1 L1810.5,1219.5 L1810.9,1224.8 L1811.4,1218.8 L1811.9,1222.3 L1812.3,1223.7 L1812.8,1222.6 L1813.3,1219.9 L1813.7,1220.9 L1814.2,1221.5 L1814.6,1223.9 L1815.1,1226.4 L1815.6,1228.5 L1816.0,1229.3 L1816.5,1228.1 L1816.9,1232.6 L1817.4,1226.3 L1817.9,1226.4 L1818.3,1226.3 L1818.8,1227.8 L1819.2,1224.7 L1819.7,1222.2 L1820.2,1227.0 L1820.6,1227.4 L1821.1,1225.9 L1821.5,1224.4 L1822.0,1227.8 L1822.5,1221.7 L1822.9,1228.4 L1823.4,1218.0 L1823.8,1227.3 L1824.3,1227.5 L1824.8,1226.8 L1825.2,1228.6 L1825.7,1224.3 L1826.1,1224.4 L1826.6,1217.1 L1827.1,1220.8 L1827.5,1218.8 L1828.0,1222.3 L1828.4,1220.8 L1828.9,1223.8 L1829.4,1229.3 L1829.8,1226.3 L1830.3,1223.4 L1830.7,1222.1 L1831.2,1228.3 L1831.7,1225.2 L1832.1,1227.7 L1832.6,1228.3 L1833.1,1224.3 L1833.5,1224.8 L1834.0,1231.9 L1834.4,1229.5 L1834.9,1223.7 L1835.4,1223.9 L1835.8,1225.4 L1836.3,1230.9 L1836.7,1226.5 L1837.2,1222.9 L1837.7,1225.5 L1838.1,1226.4 L1838.6,1227.5 L1839.0,1225.7 L1839.5,1225.1 L1840.0,1223.3 L1840.4,1228.4 L1840.9,1227.0 L1841.3,1230.8 L1841.8,1223.5 L1842.3,1229.1 L1842.7,1224.1 L1843.2,1231.0 L1843.6,1229.3 L1844.1,1226.2 L1844.6,1225.4 L1845.0,1230.9 L1845.5,1223.9 L1845.9,1222.4 L1846.4,1216.2 L1846.9,1220.0 L1847.3,1220.1 L1847.8,1222.7 L1848.2,1219.8 L1848.7,1223.2 L1849.2,1227.2 L1849.6,1225.8 L1850.1,1223.2 L1850.5,1226.6 L1851.0,1225.4 L1851.5,1225.4 L1851.9,1220.5 L1852.4,1232.0 L1852.8,1228.6 L1853.3,1225.3 L1853.8,1227.0 L1854.2,1220.7 L1854.7,1223.5 L1855.2,1225.1 L1855.6,1226.9 L1856.1,1224.9 L1856.5,1225.8 L1857.0,1229.9 L1857.5,1228.6 L1857.9,1225.0 L1858.4,1226.0 L1858.8,1227.2 L1859.3,1222.8 L1859.8,1230.0 L1860.2,1228.0 L1860.7,1224.5 L1861.1,1223.5 L1861.6,1229.3 L1862.1,1227.1 L1862.5,1229.4 L1863.0,1231.2 L1863.4,1227.8 L1863.9,1229.2 L1864.4,1223.9 L1864.8,1225.0 L1865.3,1226.9 L1865.7,1223.4 L1866.2,1223.4 L1866.7,1230.0 L1867.1,1233.2 L1867.6,1230.7 L1868.0,1227.8 L1868.5,1233.5 L1869.0,1231.5 L1869.4,1221.0 L1869.9,1223.3 L1870.3,1221.4 L1870.8,1222.7 L1871.3,1224.8 L1871.7,1223.5 L1872.2,1226.3 L1872.6,1223.8 L1873.1,1227.5 L1873.6,1226.8 L1874.0,1227.6 L1874.5,1229.2 L1874.9,1226.9 L1875.4,1222.6 L1875.9,1226.9 L1876.3,1224.4 L1876.8,1226.3 L1877.3,1226.4 L1877.7,1222.4 L1878.2,1230.5 L1878.6,1230.6 L1879.1,1231.3 L1879.6,1225.9 L1880.0,1228.4 L1880.5,1234.6 L1880.9,1233.1 L1881.4,1231.2 L1881.9,1230.9 L1882.3,1230.6 L1882.8,1225.1 L1883.2,1229.2 L1883.7,1224.9 L1884.2,1225.5 L1884.6,1225.3 L1885.1,1229.3 L1885.5,1226.3 L1886.0,1219.5 L1886.5,1221.7 L1886.9,1227.4 L1887.4,1222.9 L1887.8,1229.0 L1888.3,1222.9 L1888.8,1228.2 L1889.2,1222.6 L1889.7,1224.3 L1890.1,1225.8 L1890.6,1231.0 L1891.1,1227.1 L1891.5,1229.3 L1892.0,1227.6 L1892.4,1228.1 L1892.9,1226.1 L1893.4,1223.8 L1893.8,1223.4 L1894.3,1231.5 L1894.7,1228.5 L1895.2,1228.8 L1895.7,1222.5 L1896.1,1228.1 L1896.6,1223.6 L1897.1,1225.0 L1897.5,1223.4 L1898.0,1227.0 L1898.4,1227.9 L1898.9,1224.3 L1899.4,1223.4 L1899.8,1226.5 L1900.3,1226.7 L1900.7,1226.6 L1901.2,1225.8 L1901.7,1222.4 L1902.1,1227.1 L1902.6,1221.1 L1903.0,1228.0 L1903.5,1223.5 L1904.0,1226.3 L1904.4,1223.8 L1904.9,1219.3 L1905.3,1228.9 L1905.8,1223.7 L1906.3,1230.2 L1906.7,1224.3 L1907.2,1218.0 L1907.6,1223.1 L1908.1,1228.5 L1908.6,1225.5 L1909.0,1223.7 L1909.5,1227.1 L1909.9,1219.5 L1910.4,1222.1 L1910.9,1226.4 L1911.3,1222.2 L1911.8,1223.3 L1912.2,1228.9 L1912.7,1219.8 L1913.2,1222.2 L1913.6,1232.1 L1914.1,1224.1 L1914.5,1228.3 L1915.0,1225.5 L1915.5,1226.9 L1915.9,1229.1 L1916.4,1224.8 L1916.8,1220.9 L1917.3,1230.8 L1917.8,1226.5 L1918.2,1228.7 L1918.7,1225.3 L1919.2,1230.7 L1919.6,1225.3 L1920.1,1227.4 L1920.5,1224.7 L1921.0,1226.6 L1921.5,1229.7 L1921.9,1227.6 L1922.4,1226.4 L1922.8,1226.4 L1923.3,1221.9 L1923.8,1226.3 L1924.2,1223.3 L1924.7,1220.4 L1925.1,1217.0 L1925.6,1221.9 L1926.1,1221.1 L1926.5,1220.4 L1927.0,1222.8 L1927.4,1224.1 L1927.9,1218.9 L1928.4,1220.3 L1928.8,1219.1 L1929.3,1219.0 L1929.7,1225.6 L1930.2,1224.6 L1930.7,1226.3 L1931.1,1225.3 L1931.6,1221.4 L1932.0,1229.4 L1932.5,1222.0 L1933.0,1227.1 L1933.4,1223.1 L1933.9,1218.6 L1934.3,1221.2 L1934.8,1229.0 L1935.3,1225.7 L1935.7,1222.7 L1936.2,1229.7 L1936.6,1228.7 L1937.1,1223.5 L1937.6,1226.8 L1938.0,1226.7 L1938.5,1223.7 L1938.9,1220.8 L1939.4,1224.0 L1939.9,1222.1 L1940.3,1224.0 L1940.8,1223.8 L1941.3,1222.1 L1941.7,1226.2 L1942.2,1225.9 L1942.6,1226.7 L1943.1,1227.8 L1943.6,1230.1 L1944.0,1228.4 L1944.5,1228.6 L1944.9,1225.2 L1945.4,1230.8 L1945.9,1227.5 L1946.3,1232.3 L1946.8,1225.9 L1947.2,1233.1 L1947.7,1237.7 L1948.2,1225.9 L1948.6,1225.3 L1949.1,1224.6 L1949.5,1221.0 L1950.0,1221.3 L1950.5,1225.0 L1950.9,1225.2 L1951.4,1221.8 L1951.8,1224.0 L1952.3,1223.9 L1952.8,1224.2 L1953.2,1220.2 L1953.7,1219.9 L1954.1,1222.6 L1954.6,1220.3 L1955.1,1225.0 L1955.5,1223.3 L1956.0,1220.8 L1956.4,1225.1 L1956.9,1219.8 L1957.4,1224.7 L1957.8,1224.6 L1958.3,1223.3 L1958.7,1230.3 L1959.2,1225.5 L1959.7,1228.1 L1960.1,1231.9 L1960.6,1228.1 L1961.0,1225.4 L1961.5,1233.4 L1962.0,1226.6 L1962.4,1233.4 L1962.9,1229.4 L1963.4,1227.9 L1963.8,1222.6 L1964.3,1226.0 L1964.7,1225.7 L1965.2,1224.2 L1965.7,1223.5 L1966.1,1225.7 L1966.6,1225.2 L1967.0,1224.7 L1967.5,1227.1 L1968.0,1223.2 L1968.4,1224.6 L1968.9,1223.2 L1969.3,1222.5 L1969.8,1226.8 L1970.3,1225.3 L1970.7,1223.3 L1971.2,1225.7 L1971.6,1226.6 L1972.1,1227.6"/>
</g>
<g fill="#000">
<rect x="360.6" y="1262.5" width="25.0" height="11.4"/>
<rect x="360.6" y="1146.5" width="12.7" height="11.4"/>
<rect x="360.6" y="1030.5" width="25.0" height="11.4"/>
<rect x="360.6" y="914.5" width="12.7" height="11.4"/>
<rect x="360.6" y="798.5" width="25.0" height="11.4"/>
<rect x="360.6" y="682.6" width="12.7" height="11.4"/>
<rect x="360.6" y="566.6" width="25.0" height="11.4"/>
<rect x="360.6" y="450.6" width="12.7" height="11.4"/>
<rect x="360.6" y="334.6" width="25.0" height="11.4"/>
<rect x="360.6" y="218.6" width="12.7" height="11.4"/>
<rect x="360.6" y="102.6" width="25.0" height="11.4"/>
<rect x="354.9" y="1335.9" width="11.4" height="25.0"/>
<rect x="585.1" y="1348.3" width="11.4" height="12.7"/>
<rect x="815.3" y="1335.9" width="11.4" height="25.0"/>
<rect x="1045.5" y="1348.3" width="11.4" height="12.7"/>
<rect x="1275.8" y="1335.9" width="11.4" height="25.0"/>
<rect x="1506.0" y="1348.3" width="11.4" height="12.7"/>
<rect x="1736.2" y="1335.9" width="11.4" height="25.0"/>
<rect x="1966.4" y="1348.3" width="11.4" height="12.7"/>
</g>
<rect x="360.6" y="61.9" width="1611.5" height="1299.1" fill="none" stroke="#000" stroke-width="12.3"/>
<g>
<text transform="translate(765.011 481.5) scale(0.474 0.507)">1</text>
<text transform="translate(905.313 498.904) scale(0.486 0.498)">3</text>
<text transform="translate(906.787 572.4) scale(0.489 0.49)">2</text>
<text transform="translate(906.432 639) scale(0.473 0.51)">1</text>
<text transform="translate(1378.256 713.51) scale(0.493 0.495)">3</text>
<text transform="translate(1379.219 781.7) scale(0.498 0.495)">2</text>
<text transform="translate(1380.119 854.7) scale(0.468 0.502)">1</text>
<text transform="translate(1758.938 733.29) scale(0.495 0.505)">3</text>
<text transform="translate(1759.771 816.7) scale(0.504 0.498)">2</text>
<text transform="translate(1763.276 891.1) scale(0.47 0.504)">1</text>
<text transform="translate(894.228 1019.409) scale(0.496 0.495)">5</text>
<text transform="translate(895.806 1088.9) scale(0.465 0.502)">4</text>
<text transform="translate(1050.472 1198.312) scale(0.504 0.494)">5</text>
<text transform="translate(1376.503 1143.2) scale(0.466 0.505)">4</text>
<text transform="translate(1628.928 1194.195) scale(0.496 0.502)">5</text>
<text transform="translate(1768.516 1185.4) scale(0.461 0.508)">4</text>
<text transform="translate(289.918 1294.932) scale(0.436 0.438)">0</text>
<text transform="translate(202.782 1062.949) scale(0.436 0.438)">500</text>
<text transform="translate(159.215 830.967) scale(0.436 0.438)">1000</text>
<text transform="translate(159.215 598.985) scale(0.436 0.438)">1500</text>
<text transform="translate(159.215 367.003) scale(0.436 0.438)">2000</text>
<text transform="translate(159.215 135.021) scale(0.436 0.438)">2500</text>
<text transform="translate(316.087 1456.332) scale(0.439 0.434)">20</text>
<text transform="translate(778.746 1456.332) scale(0.428 0.434)">40</text>
<text transform="translate(1237.4 1456.332) scale(0.437 0.434)">60</text>
<text transform="translate(1697.828 1456.332) scale(0.437 0.434)">80</text>
<text transform="translate(1481.238 146.9) scale(0.373 0.373)">1-Al</text>
<text transform="translate(1481.52 237.7) scale(0.373 0.373)">2-Fe</text>
<text transform="translate(1480.518 330.8) scale(0.373 0.373)">3-AlFe</text>
<text transform="translate(1482.896 423.4) scale(0.368 0.373)">4-Al<tspan class="sb" dy="51.2">0.9</tspan><tspan dy="-51.2">Ni</tspan><tspan class="sb" dy="51.2">1.1</tspan></text>
<text transform="translate(1481.867 532) scale(0.367 0.373)">5-FeNi<tspan class="sb" dy="54.2">3</tspan></text>
<text transform="translate(1428.201 1022.8) scale(0.4 0.394)">Without Ni foil</text>
<text transform="translate(1438.701 1315.8) scale(0.4 0.394)">With Ni foil</text>
<text transform="translate(902.124 1615.2) scale(0.553 0.547)">2<tspan font-size="189.0" dx="2.9">θ</tspan><tspan dx="2.9"> (degree)</tspan></text>
<text transform="translate(122.9 1058.884) rotate(-90) scale(0.555 0.55)">Intensity (a.u.)</text>
</g>
</svg>
</body></html>
